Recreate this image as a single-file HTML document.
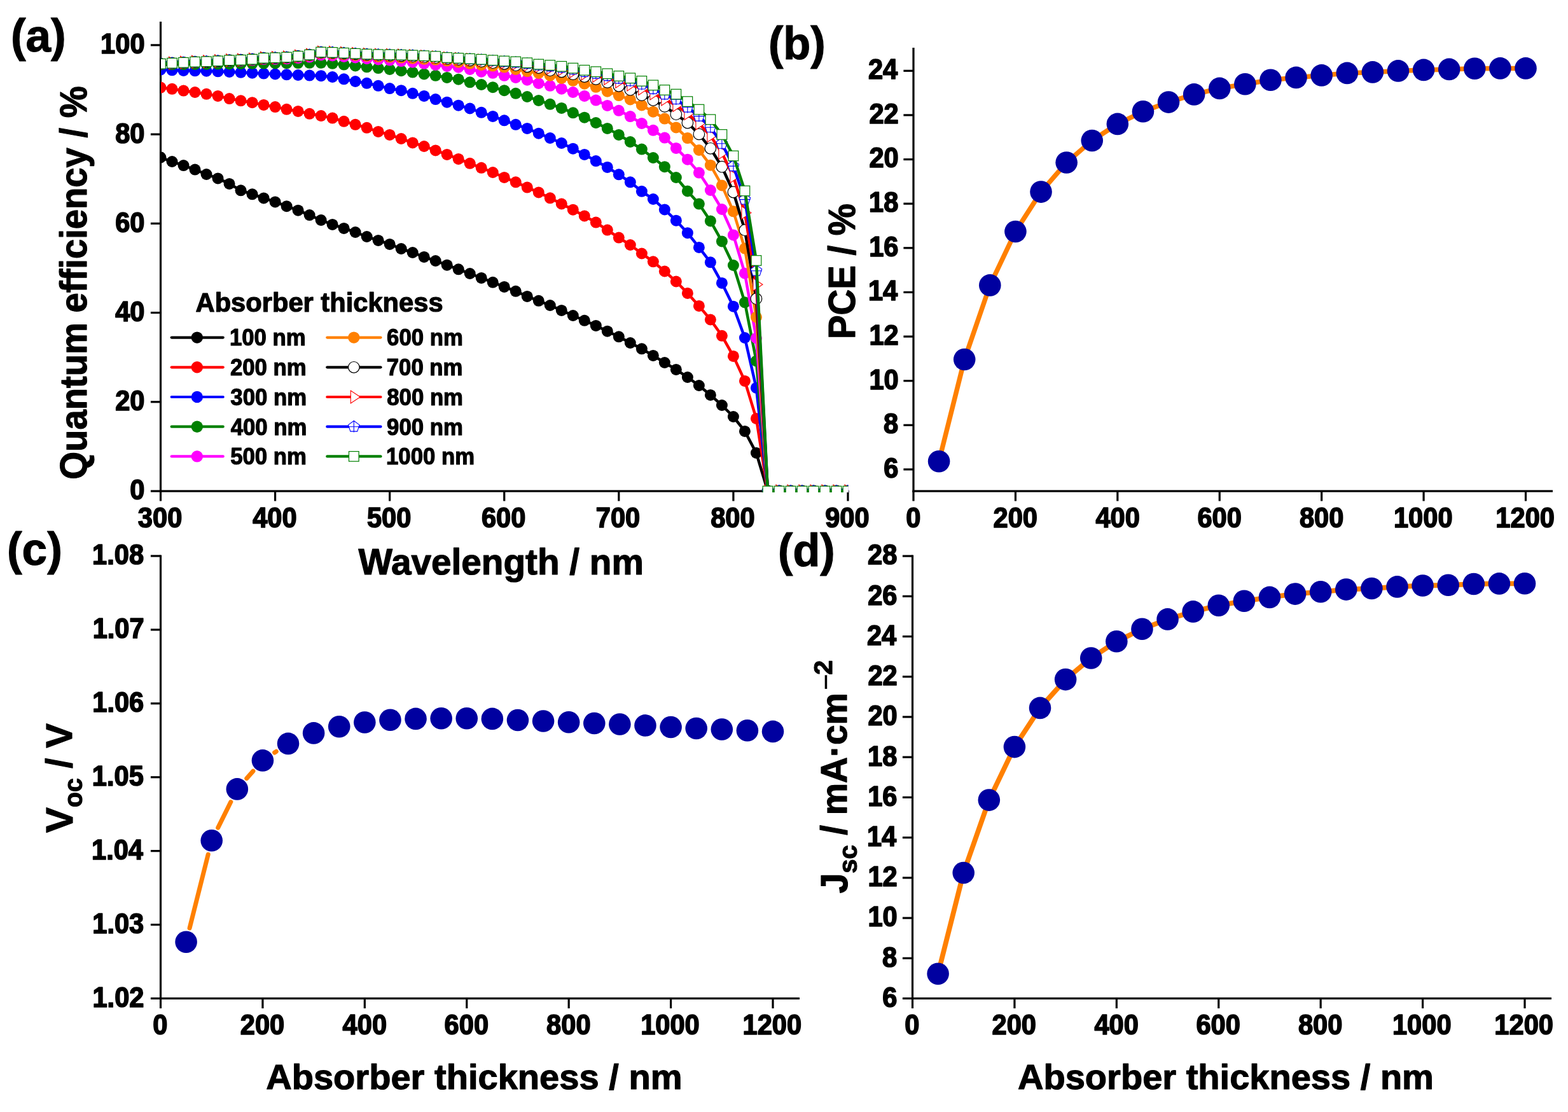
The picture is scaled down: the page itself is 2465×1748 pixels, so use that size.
<!DOCTYPE html>
<html><head><meta charset="utf-8"><title>Figure</title>
<style>html,body{margin:0;padding:0;background:#fff}svg{display:block}</style>
</head><body>
<svg xmlns="http://www.w3.org/2000/svg" width="2465" height="1748" viewBox="0 0 2465 1748">
<rect width="2465" height="1748" fill="#fff"/>
<rect x="250.90" y="34.00" width="3.20" height="739.60" fill="#000"/>
<rect x="250.90" y="770.40" width="1083.60" height="3.20" fill="#000"/>
<rect x="250.90" y="772.00" width="3.20" height="15.60" fill="#000"/>
<rect x="430.98" y="772.00" width="3.20" height="15.60" fill="#000"/>
<rect x="611.06" y="772.00" width="3.20" height="15.60" fill="#000"/>
<rect x="791.14" y="772.00" width="3.20" height="15.60" fill="#000"/>
<rect x="971.22" y="772.00" width="3.20" height="15.60" fill="#000"/>
<rect x="1151.30" y="772.00" width="3.20" height="15.60" fill="#000"/>
<rect x="1331.38" y="772.00" width="3.20" height="15.60" fill="#000"/>
<rect x="236.90" y="770.40" width="15.60" height="3.20" fill="#000"/>
<rect x="236.90" y="630.18" width="15.60" height="3.20" fill="#000"/>
<rect x="236.90" y="489.96" width="15.60" height="3.20" fill="#000"/>
<rect x="236.90" y="349.74" width="15.60" height="3.20" fill="#000"/>
<rect x="236.90" y="209.52" width="15.60" height="3.20" fill="#000"/>
<rect x="236.90" y="69.30" width="15.60" height="3.20" fill="#000"/>
<defs><clipPath id="ca"><rect x="253" y="30" width="1080.5" height="744"/></clipPath>
<clipPath id="cb"><rect x="1437" y="60" width="1010" height="712"/></clipPath></defs>
<g clip-path="url(#ca)">
<polyline points="252.50,247.50 270.51,254.00 288.52,260.10 306.52,266.60 324.53,274.00 342.54,280.40 360.55,288.90 378.56,299.30 396.56,305.30 414.57,311.40 432.58,317.40 450.59,324.20 468.60,330.70 486.60,338.10 504.61,346.00 522.62,352.90 540.63,358.90 558.64,365.00 576.64,372.00 594.65,377.90 612.66,383.90 630.67,391.00 648.68,397.00 666.68,403.90 684.69,410.00 702.70,416.70 720.71,423.30 738.72,430.00 756.72,436.90 774.73,443.80 792.74,450.90 810.75,457.80 828.76,465.90 846.76,472.80 864.77,480.00 882.78,487.90 900.79,496.00 918.80,503.80 936.80,511.90 954.81,520.70 972.82,529.30 990.83,539.00 1008.84,548.30 1026.84,558.90 1044.85,570.00 1062.86,580.90 1080.87,593.00 1098.88,606.00 1116.88,620.90 1134.89,637.00 1152.90,655.00 1170.91,677.90 1188.92,712.00 1206.92,772.00 1224.93,772.00 1242.94,772.00 1260.95,772.00 1278.96,772.00 1296.96,772.00 1314.97,772.00 1332.98,772.00" fill="none" stroke="#000000" stroke-width="4.5" stroke-linejoin="round"/>
<circle cx="252.50" cy="247.50" r="9" fill="#000000"/>
<circle cx="270.51" cy="254.00" r="9" fill="#000000"/>
<circle cx="288.52" cy="260.10" r="9" fill="#000000"/>
<circle cx="306.52" cy="266.60" r="9" fill="#000000"/>
<circle cx="324.53" cy="274.00" r="9" fill="#000000"/>
<circle cx="342.54" cy="280.40" r="9" fill="#000000"/>
<circle cx="360.55" cy="288.90" r="9" fill="#000000"/>
<circle cx="378.56" cy="299.30" r="9" fill="#000000"/>
<circle cx="396.56" cy="305.30" r="9" fill="#000000"/>
<circle cx="414.57" cy="311.40" r="9" fill="#000000"/>
<circle cx="432.58" cy="317.40" r="9" fill="#000000"/>
<circle cx="450.59" cy="324.20" r="9" fill="#000000"/>
<circle cx="468.60" cy="330.70" r="9" fill="#000000"/>
<circle cx="486.60" cy="338.10" r="9" fill="#000000"/>
<circle cx="504.61" cy="346.00" r="9" fill="#000000"/>
<circle cx="522.62" cy="352.90" r="9" fill="#000000"/>
<circle cx="540.63" cy="358.90" r="9" fill="#000000"/>
<circle cx="558.64" cy="365.00" r="9" fill="#000000"/>
<circle cx="576.64" cy="372.00" r="9" fill="#000000"/>
<circle cx="594.65" cy="377.90" r="9" fill="#000000"/>
<circle cx="612.66" cy="383.90" r="9" fill="#000000"/>
<circle cx="630.67" cy="391.00" r="9" fill="#000000"/>
<circle cx="648.68" cy="397.00" r="9" fill="#000000"/>
<circle cx="666.68" cy="403.90" r="9" fill="#000000"/>
<circle cx="684.69" cy="410.00" r="9" fill="#000000"/>
<circle cx="702.70" cy="416.70" r="9" fill="#000000"/>
<circle cx="720.71" cy="423.30" r="9" fill="#000000"/>
<circle cx="738.72" cy="430.00" r="9" fill="#000000"/>
<circle cx="756.72" cy="436.90" r="9" fill="#000000"/>
<circle cx="774.73" cy="443.80" r="9" fill="#000000"/>
<circle cx="792.74" cy="450.90" r="9" fill="#000000"/>
<circle cx="810.75" cy="457.80" r="9" fill="#000000"/>
<circle cx="828.76" cy="465.90" r="9" fill="#000000"/>
<circle cx="846.76" cy="472.80" r="9" fill="#000000"/>
<circle cx="864.77" cy="480.00" r="9" fill="#000000"/>
<circle cx="882.78" cy="487.90" r="9" fill="#000000"/>
<circle cx="900.79" cy="496.00" r="9" fill="#000000"/>
<circle cx="918.80" cy="503.80" r="9" fill="#000000"/>
<circle cx="936.80" cy="511.90" r="9" fill="#000000"/>
<circle cx="954.81" cy="520.70" r="9" fill="#000000"/>
<circle cx="972.82" cy="529.30" r="9" fill="#000000"/>
<circle cx="990.83" cy="539.00" r="9" fill="#000000"/>
<circle cx="1008.84" cy="548.30" r="9" fill="#000000"/>
<circle cx="1026.84" cy="558.90" r="9" fill="#000000"/>
<circle cx="1044.85" cy="570.00" r="9" fill="#000000"/>
<circle cx="1062.86" cy="580.90" r="9" fill="#000000"/>
<circle cx="1080.87" cy="593.00" r="9" fill="#000000"/>
<circle cx="1098.88" cy="606.00" r="9" fill="#000000"/>
<circle cx="1116.88" cy="620.90" r="9" fill="#000000"/>
<circle cx="1134.89" cy="637.00" r="9" fill="#000000"/>
<circle cx="1152.90" cy="655.00" r="9" fill="#000000"/>
<circle cx="1170.91" cy="677.90" r="9" fill="#000000"/>
<circle cx="1188.92" cy="712.00" r="9" fill="#000000"/>
<circle cx="1206.92" cy="772.00" r="9" fill="#000000"/>
<circle cx="1224.93" cy="772.00" r="9" fill="#000000"/>
<circle cx="1242.94" cy="772.00" r="9" fill="#000000"/>
<circle cx="1260.95" cy="772.00" r="9" fill="#000000"/>
<circle cx="1278.96" cy="772.00" r="9" fill="#000000"/>
<circle cx="1296.96" cy="772.00" r="9" fill="#000000"/>
<circle cx="1314.97" cy="772.00" r="9" fill="#000000"/>
<circle cx="1332.98" cy="772.00" r="9" fill="#000000"/>
<polyline points="252.50,137.60 270.51,139.80 288.52,142.60 306.52,145.00 324.53,147.80 342.54,150.90 360.55,155.10 378.56,158.30 396.56,161.20 414.57,164.90 432.58,168.10 450.59,171.80 468.60,174.90 486.60,178.80 504.61,182.00 522.62,185.60 540.63,190.80 558.64,195.80 576.64,200.80 594.65,206.90 612.66,211.90 630.67,218.00 648.68,224.40 666.68,230.00 684.69,236.40 702.70,242.90 720.71,249.90 738.72,256.80 756.72,263.80 774.73,271.00 792.74,278.90 810.75,286.30 828.76,294.60 846.76,302.40 864.77,311.30 882.78,320.50 900.79,329.70 918.80,339.40 936.80,349.60 954.81,361.60 972.82,373.60 990.83,385.00 1008.84,398.50 1026.84,411.30 1044.85,426.50 1062.86,442.50 1080.87,460.90 1098.88,480.90 1116.88,502.50 1134.89,527.80 1152.90,559.90 1170.91,598.90 1188.92,657.90 1206.92,772.00 1224.93,772.00 1242.94,772.00 1260.95,772.00 1278.96,772.00 1296.96,772.00 1314.97,772.00 1332.98,772.00" fill="none" stroke="#ff0000" stroke-width="4.5" stroke-linejoin="round"/>
<circle cx="252.50" cy="137.60" r="9" fill="#ff0000"/>
<circle cx="270.51" cy="139.80" r="9" fill="#ff0000"/>
<circle cx="288.52" cy="142.60" r="9" fill="#ff0000"/>
<circle cx="306.52" cy="145.00" r="9" fill="#ff0000"/>
<circle cx="324.53" cy="147.80" r="9" fill="#ff0000"/>
<circle cx="342.54" cy="150.90" r="9" fill="#ff0000"/>
<circle cx="360.55" cy="155.10" r="9" fill="#ff0000"/>
<circle cx="378.56" cy="158.30" r="9" fill="#ff0000"/>
<circle cx="396.56" cy="161.20" r="9" fill="#ff0000"/>
<circle cx="414.57" cy="164.90" r="9" fill="#ff0000"/>
<circle cx="432.58" cy="168.10" r="9" fill="#ff0000"/>
<circle cx="450.59" cy="171.80" r="9" fill="#ff0000"/>
<circle cx="468.60" cy="174.90" r="9" fill="#ff0000"/>
<circle cx="486.60" cy="178.80" r="9" fill="#ff0000"/>
<circle cx="504.61" cy="182.00" r="9" fill="#ff0000"/>
<circle cx="522.62" cy="185.60" r="9" fill="#ff0000"/>
<circle cx="540.63" cy="190.80" r="9" fill="#ff0000"/>
<circle cx="558.64" cy="195.80" r="9" fill="#ff0000"/>
<circle cx="576.64" cy="200.80" r="9" fill="#ff0000"/>
<circle cx="594.65" cy="206.90" r="9" fill="#ff0000"/>
<circle cx="612.66" cy="211.90" r="9" fill="#ff0000"/>
<circle cx="630.67" cy="218.00" r="9" fill="#ff0000"/>
<circle cx="648.68" cy="224.40" r="9" fill="#ff0000"/>
<circle cx="666.68" cy="230.00" r="9" fill="#ff0000"/>
<circle cx="684.69" cy="236.40" r="9" fill="#ff0000"/>
<circle cx="702.70" cy="242.90" r="9" fill="#ff0000"/>
<circle cx="720.71" cy="249.90" r="9" fill="#ff0000"/>
<circle cx="738.72" cy="256.80" r="9" fill="#ff0000"/>
<circle cx="756.72" cy="263.80" r="9" fill="#ff0000"/>
<circle cx="774.73" cy="271.00" r="9" fill="#ff0000"/>
<circle cx="792.74" cy="278.90" r="9" fill="#ff0000"/>
<circle cx="810.75" cy="286.30" r="9" fill="#ff0000"/>
<circle cx="828.76" cy="294.60" r="9" fill="#ff0000"/>
<circle cx="846.76" cy="302.40" r="9" fill="#ff0000"/>
<circle cx="864.77" cy="311.30" r="9" fill="#ff0000"/>
<circle cx="882.78" cy="320.50" r="9" fill="#ff0000"/>
<circle cx="900.79" cy="329.70" r="9" fill="#ff0000"/>
<circle cx="918.80" cy="339.40" r="9" fill="#ff0000"/>
<circle cx="936.80" cy="349.60" r="9" fill="#ff0000"/>
<circle cx="954.81" cy="361.60" r="9" fill="#ff0000"/>
<circle cx="972.82" cy="373.60" r="9" fill="#ff0000"/>
<circle cx="990.83" cy="385.00" r="9" fill="#ff0000"/>
<circle cx="1008.84" cy="398.50" r="9" fill="#ff0000"/>
<circle cx="1026.84" cy="411.30" r="9" fill="#ff0000"/>
<circle cx="1044.85" cy="426.50" r="9" fill="#ff0000"/>
<circle cx="1062.86" cy="442.50" r="9" fill="#ff0000"/>
<circle cx="1080.87" cy="460.90" r="9" fill="#ff0000"/>
<circle cx="1098.88" cy="480.90" r="9" fill="#ff0000"/>
<circle cx="1116.88" cy="502.50" r="9" fill="#ff0000"/>
<circle cx="1134.89" cy="527.80" r="9" fill="#ff0000"/>
<circle cx="1152.90" cy="559.90" r="9" fill="#ff0000"/>
<circle cx="1170.91" cy="598.90" r="9" fill="#ff0000"/>
<circle cx="1188.92" cy="657.90" r="9" fill="#ff0000"/>
<circle cx="1206.92" cy="772.00" r="9" fill="#ff0000"/>
<circle cx="1224.93" cy="772.00" r="9" fill="#ff0000"/>
<circle cx="1242.94" cy="772.00" r="9" fill="#ff0000"/>
<circle cx="1260.95" cy="772.00" r="9" fill="#ff0000"/>
<circle cx="1278.96" cy="772.00" r="9" fill="#ff0000"/>
<circle cx="1296.96" cy="772.00" r="9" fill="#ff0000"/>
<circle cx="1314.97" cy="772.00" r="9" fill="#ff0000"/>
<circle cx="1332.98" cy="772.00" r="9" fill="#ff0000"/>
<polyline points="252.50,109.50 270.51,110.37 288.52,111.00 306.52,111.36 324.53,111.70 342.54,112.28 360.55,113.00 378.56,113.82 396.56,114.70 414.57,115.61 432.58,116.50 450.59,117.29 468.60,118.00 486.60,118.53 504.61,119.20 522.62,121.00 540.63,124.30 558.64,128.00 576.64,130.80 594.65,134.80 612.66,139.10 630.67,142.20 648.68,146.80 666.68,150.90 684.69,156.10 702.70,160.70 720.71,165.70 738.72,170.50 756.72,176.80 774.73,182.90 792.74,189.30 810.75,195.80 828.76,201.90 846.76,209.70 864.77,217.00 882.78,225.00 900.79,233.70 918.80,242.90 936.80,253.10 954.81,262.90 972.82,274.30 990.83,286.30 1008.84,300.80 1026.84,313.00 1044.85,329.40 1062.86,346.70 1080.87,366.20 1098.88,388.90 1116.88,412.30 1134.89,444.90 1152.90,481.70 1170.91,531.00 1188.92,609.70 1206.92,772.00 1224.93,772.00 1242.94,772.00 1260.95,772.00 1278.96,772.00 1296.96,772.00 1314.97,772.00 1332.98,772.00" fill="none" stroke="#0000ff" stroke-width="4.5" stroke-linejoin="round"/>
<circle cx="252.50" cy="109.50" r="9" fill="#0000ff"/>
<circle cx="270.51" cy="110.37" r="9" fill="#0000ff"/>
<circle cx="288.52" cy="111.00" r="9" fill="#0000ff"/>
<circle cx="306.52" cy="111.36" r="9" fill="#0000ff"/>
<circle cx="324.53" cy="111.70" r="9" fill="#0000ff"/>
<circle cx="342.54" cy="112.28" r="9" fill="#0000ff"/>
<circle cx="360.55" cy="113.00" r="9" fill="#0000ff"/>
<circle cx="378.56" cy="113.82" r="9" fill="#0000ff"/>
<circle cx="396.56" cy="114.70" r="9" fill="#0000ff"/>
<circle cx="414.57" cy="115.61" r="9" fill="#0000ff"/>
<circle cx="432.58" cy="116.50" r="9" fill="#0000ff"/>
<circle cx="450.59" cy="117.29" r="9" fill="#0000ff"/>
<circle cx="468.60" cy="118.00" r="9" fill="#0000ff"/>
<circle cx="486.60" cy="118.53" r="9" fill="#0000ff"/>
<circle cx="504.61" cy="119.20" r="9" fill="#0000ff"/>
<circle cx="522.62" cy="121.00" r="9" fill="#0000ff"/>
<circle cx="540.63" cy="124.30" r="9" fill="#0000ff"/>
<circle cx="558.64" cy="128.00" r="9" fill="#0000ff"/>
<circle cx="576.64" cy="130.80" r="9" fill="#0000ff"/>
<circle cx="594.65" cy="134.80" r="9" fill="#0000ff"/>
<circle cx="612.66" cy="139.10" r="9" fill="#0000ff"/>
<circle cx="630.67" cy="142.20" r="9" fill="#0000ff"/>
<circle cx="648.68" cy="146.80" r="9" fill="#0000ff"/>
<circle cx="666.68" cy="150.90" r="9" fill="#0000ff"/>
<circle cx="684.69" cy="156.10" r="9" fill="#0000ff"/>
<circle cx="702.70" cy="160.70" r="9" fill="#0000ff"/>
<circle cx="720.71" cy="165.70" r="9" fill="#0000ff"/>
<circle cx="738.72" cy="170.50" r="9" fill="#0000ff"/>
<circle cx="756.72" cy="176.80" r="9" fill="#0000ff"/>
<circle cx="774.73" cy="182.90" r="9" fill="#0000ff"/>
<circle cx="792.74" cy="189.30" r="9" fill="#0000ff"/>
<circle cx="810.75" cy="195.80" r="9" fill="#0000ff"/>
<circle cx="828.76" cy="201.90" r="9" fill="#0000ff"/>
<circle cx="846.76" cy="209.70" r="9" fill="#0000ff"/>
<circle cx="864.77" cy="217.00" r="9" fill="#0000ff"/>
<circle cx="882.78" cy="225.00" r="9" fill="#0000ff"/>
<circle cx="900.79" cy="233.70" r="9" fill="#0000ff"/>
<circle cx="918.80" cy="242.90" r="9" fill="#0000ff"/>
<circle cx="936.80" cy="253.10" r="9" fill="#0000ff"/>
<circle cx="954.81" cy="262.90" r="9" fill="#0000ff"/>
<circle cx="972.82" cy="274.30" r="9" fill="#0000ff"/>
<circle cx="990.83" cy="286.30" r="9" fill="#0000ff"/>
<circle cx="1008.84" cy="300.80" r="9" fill="#0000ff"/>
<circle cx="1026.84" cy="313.00" r="9" fill="#0000ff"/>
<circle cx="1044.85" cy="329.40" r="9" fill="#0000ff"/>
<circle cx="1062.86" cy="346.70" r="9" fill="#0000ff"/>
<circle cx="1080.87" cy="366.20" r="9" fill="#0000ff"/>
<circle cx="1098.88" cy="388.90" r="9" fill="#0000ff"/>
<circle cx="1116.88" cy="412.30" r="9" fill="#0000ff"/>
<circle cx="1134.89" cy="444.90" r="9" fill="#0000ff"/>
<circle cx="1152.90" cy="481.70" r="9" fill="#0000ff"/>
<circle cx="1170.91" cy="531.00" r="9" fill="#0000ff"/>
<circle cx="1188.92" cy="609.70" r="9" fill="#0000ff"/>
<circle cx="1206.92" cy="772.00" r="9" fill="#0000ff"/>
<circle cx="1224.93" cy="772.00" r="9" fill="#0000ff"/>
<circle cx="1242.94" cy="772.00" r="9" fill="#0000ff"/>
<circle cx="1260.95" cy="772.00" r="9" fill="#0000ff"/>
<circle cx="1278.96" cy="772.00" r="9" fill="#0000ff"/>
<circle cx="1296.96" cy="772.00" r="9" fill="#0000ff"/>
<circle cx="1314.97" cy="772.00" r="9" fill="#0000ff"/>
<circle cx="1332.98" cy="772.00" r="9" fill="#0000ff"/>
<polyline points="252.50,101.50 270.51,101.34 288.52,101.16 306.52,100.98 324.53,100.79 342.54,100.60 360.55,100.39 378.56,100.16 396.56,99.93 414.57,99.71 432.58,99.50 450.59,99.28 468.60,99.05 486.60,98.87 504.61,98.80 522.62,99.80 540.63,101.60 558.64,103.39 576.64,105.30 594.65,107.10 612.66,109.00 630.67,111.17 648.68,113.60 666.68,116.40 684.69,118.80 702.70,121.90 720.71,124.70 738.72,129.30 756.72,133.00 774.73,137.20 792.74,142.20 810.75,146.80 828.76,152.00 846.76,157.90 864.77,163.80 882.78,169.90 900.79,177.30 918.80,184.70 936.80,193.00 954.81,201.90 972.82,211.90 990.83,223.00 1008.84,234.60 1026.84,248.00 1044.85,262.20 1062.86,279.00 1080.87,300.50 1098.88,320.60 1116.88,347.40 1134.89,379.40 1152.90,417.00 1170.91,475.30 1188.92,567.40 1206.92,772.00 1224.93,772.00 1242.94,772.00 1260.95,772.00 1278.96,772.00 1296.96,772.00 1314.97,772.00 1332.98,772.00" fill="none" stroke="#008000" stroke-width="4.5" stroke-linejoin="round"/>
<circle cx="252.50" cy="101.50" r="9" fill="#008000"/>
<circle cx="270.51" cy="101.34" r="9" fill="#008000"/>
<circle cx="288.52" cy="101.16" r="9" fill="#008000"/>
<circle cx="306.52" cy="100.98" r="9" fill="#008000"/>
<circle cx="324.53" cy="100.79" r="9" fill="#008000"/>
<circle cx="342.54" cy="100.60" r="9" fill="#008000"/>
<circle cx="360.55" cy="100.39" r="9" fill="#008000"/>
<circle cx="378.56" cy="100.16" r="9" fill="#008000"/>
<circle cx="396.56" cy="99.93" r="9" fill="#008000"/>
<circle cx="414.57" cy="99.71" r="9" fill="#008000"/>
<circle cx="432.58" cy="99.50" r="9" fill="#008000"/>
<circle cx="450.59" cy="99.28" r="9" fill="#008000"/>
<circle cx="468.60" cy="99.05" r="9" fill="#008000"/>
<circle cx="486.60" cy="98.87" r="9" fill="#008000"/>
<circle cx="504.61" cy="98.80" r="9" fill="#008000"/>
<circle cx="522.62" cy="99.80" r="9" fill="#008000"/>
<circle cx="540.63" cy="101.60" r="9" fill="#008000"/>
<circle cx="558.64" cy="103.39" r="9" fill="#008000"/>
<circle cx="576.64" cy="105.30" r="9" fill="#008000"/>
<circle cx="594.65" cy="107.10" r="9" fill="#008000"/>
<circle cx="612.66" cy="109.00" r="9" fill="#008000"/>
<circle cx="630.67" cy="111.17" r="9" fill="#008000"/>
<circle cx="648.68" cy="113.60" r="9" fill="#008000"/>
<circle cx="666.68" cy="116.40" r="9" fill="#008000"/>
<circle cx="684.69" cy="118.80" r="9" fill="#008000"/>
<circle cx="702.70" cy="121.90" r="9" fill="#008000"/>
<circle cx="720.71" cy="124.70" r="9" fill="#008000"/>
<circle cx="738.72" cy="129.30" r="9" fill="#008000"/>
<circle cx="756.72" cy="133.00" r="9" fill="#008000"/>
<circle cx="774.73" cy="137.20" r="9" fill="#008000"/>
<circle cx="792.74" cy="142.20" r="9" fill="#008000"/>
<circle cx="810.75" cy="146.80" r="9" fill="#008000"/>
<circle cx="828.76" cy="152.00" r="9" fill="#008000"/>
<circle cx="846.76" cy="157.90" r="9" fill="#008000"/>
<circle cx="864.77" cy="163.80" r="9" fill="#008000"/>
<circle cx="882.78" cy="169.90" r="9" fill="#008000"/>
<circle cx="900.79" cy="177.30" r="9" fill="#008000"/>
<circle cx="918.80" cy="184.70" r="9" fill="#008000"/>
<circle cx="936.80" cy="193.00" r="9" fill="#008000"/>
<circle cx="954.81" cy="201.90" r="9" fill="#008000"/>
<circle cx="972.82" cy="211.90" r="9" fill="#008000"/>
<circle cx="990.83" cy="223.00" r="9" fill="#008000"/>
<circle cx="1008.84" cy="234.60" r="9" fill="#008000"/>
<circle cx="1026.84" cy="248.00" r="9" fill="#008000"/>
<circle cx="1044.85" cy="262.20" r="9" fill="#008000"/>
<circle cx="1062.86" cy="279.00" r="9" fill="#008000"/>
<circle cx="1080.87" cy="300.50" r="9" fill="#008000"/>
<circle cx="1098.88" cy="320.60" r="9" fill="#008000"/>
<circle cx="1116.88" cy="347.40" r="9" fill="#008000"/>
<circle cx="1134.89" cy="379.40" r="9" fill="#008000"/>
<circle cx="1152.90" cy="417.00" r="9" fill="#008000"/>
<circle cx="1170.91" cy="475.30" r="9" fill="#008000"/>
<circle cx="1188.92" cy="567.40" r="9" fill="#008000"/>
<circle cx="1206.92" cy="772.00" r="9" fill="#008000"/>
<circle cx="1224.93" cy="772.00" r="9" fill="#008000"/>
<circle cx="1242.94" cy="772.00" r="9" fill="#008000"/>
<circle cx="1260.95" cy="772.00" r="9" fill="#008000"/>
<circle cx="1278.96" cy="772.00" r="9" fill="#008000"/>
<circle cx="1296.96" cy="772.00" r="9" fill="#008000"/>
<circle cx="1314.97" cy="772.00" r="9" fill="#008000"/>
<circle cx="1332.98" cy="772.00" r="9" fill="#008000"/>
<polyline points="252.50,100.64 270.51,99.63 288.52,98.84 306.52,97.87 324.53,97.44 342.54,96.62 360.55,95.71 378.56,95.51 396.56,94.62 414.57,93.00 432.58,92.76 450.59,92.34 468.60,91.11 486.60,89.56 504.61,86.41 522.62,87.45 540.63,88.90 558.64,90.42 576.64,92.13 594.65,93.48 612.66,94.56 630.67,96.10 648.68,97.70 666.68,99.80 684.69,101.90 702.70,104.00 720.71,105.70 738.72,108.90 756.72,112.70 774.73,114.80 792.74,118.80 810.75,121.90 828.76,125.70 846.76,131.00 864.77,134.80 882.78,139.70 900.79,145.00 918.80,150.90 936.80,157.60 954.81,165.90 972.82,173.80 990.83,183.10 1008.84,194.00 1026.84,204.80 1044.85,216.60 1062.86,232.90 1080.87,250.70 1098.88,271.60 1116.88,299.00 1134.89,329.00 1152.90,369.40 1170.91,429.70 1188.92,531.50 1206.92,772.00 1224.93,772.00 1242.94,772.00 1260.95,772.00 1278.96,772.00 1296.96,772.00 1314.97,772.00 1332.98,772.00" fill="none" stroke="#ff00ff" stroke-width="4.5" stroke-linejoin="round"/>
<circle cx="252.50" cy="100.64" r="9" fill="#ff00ff"/>
<circle cx="270.51" cy="99.63" r="9" fill="#ff00ff"/>
<circle cx="288.52" cy="98.84" r="9" fill="#ff00ff"/>
<circle cx="306.52" cy="97.87" r="9" fill="#ff00ff"/>
<circle cx="324.53" cy="97.44" r="9" fill="#ff00ff"/>
<circle cx="342.54" cy="96.62" r="9" fill="#ff00ff"/>
<circle cx="360.55" cy="95.71" r="9" fill="#ff00ff"/>
<circle cx="378.56" cy="95.51" r="9" fill="#ff00ff"/>
<circle cx="396.56" cy="94.62" r="9" fill="#ff00ff"/>
<circle cx="414.57" cy="93.00" r="9" fill="#ff00ff"/>
<circle cx="432.58" cy="92.76" r="9" fill="#ff00ff"/>
<circle cx="450.59" cy="92.34" r="9" fill="#ff00ff"/>
<circle cx="468.60" cy="91.11" r="9" fill="#ff00ff"/>
<circle cx="486.60" cy="89.56" r="9" fill="#ff00ff"/>
<circle cx="504.61" cy="86.41" r="9" fill="#ff00ff"/>
<circle cx="522.62" cy="87.45" r="9" fill="#ff00ff"/>
<circle cx="540.63" cy="88.90" r="9" fill="#ff00ff"/>
<circle cx="558.64" cy="90.42" r="9" fill="#ff00ff"/>
<circle cx="576.64" cy="92.13" r="9" fill="#ff00ff"/>
<circle cx="594.65" cy="93.48" r="9" fill="#ff00ff"/>
<circle cx="612.66" cy="94.56" r="9" fill="#ff00ff"/>
<circle cx="630.67" cy="96.10" r="9" fill="#ff00ff"/>
<circle cx="648.68" cy="97.70" r="9" fill="#ff00ff"/>
<circle cx="666.68" cy="99.80" r="9" fill="#ff00ff"/>
<circle cx="684.69" cy="101.90" r="9" fill="#ff00ff"/>
<circle cx="702.70" cy="104.00" r="9" fill="#ff00ff"/>
<circle cx="720.71" cy="105.70" r="9" fill="#ff00ff"/>
<circle cx="738.72" cy="108.90" r="9" fill="#ff00ff"/>
<circle cx="756.72" cy="112.70" r="9" fill="#ff00ff"/>
<circle cx="774.73" cy="114.80" r="9" fill="#ff00ff"/>
<circle cx="792.74" cy="118.80" r="9" fill="#ff00ff"/>
<circle cx="810.75" cy="121.90" r="9" fill="#ff00ff"/>
<circle cx="828.76" cy="125.70" r="9" fill="#ff00ff"/>
<circle cx="846.76" cy="131.00" r="9" fill="#ff00ff"/>
<circle cx="864.77" cy="134.80" r="9" fill="#ff00ff"/>
<circle cx="882.78" cy="139.70" r="9" fill="#ff00ff"/>
<circle cx="900.79" cy="145.00" r="9" fill="#ff00ff"/>
<circle cx="918.80" cy="150.90" r="9" fill="#ff00ff"/>
<circle cx="936.80" cy="157.60" r="9" fill="#ff00ff"/>
<circle cx="954.81" cy="165.90" r="9" fill="#ff00ff"/>
<circle cx="972.82" cy="173.80" r="9" fill="#ff00ff"/>
<circle cx="990.83" cy="183.10" r="9" fill="#ff00ff"/>
<circle cx="1008.84" cy="194.00" r="9" fill="#ff00ff"/>
<circle cx="1026.84" cy="204.80" r="9" fill="#ff00ff"/>
<circle cx="1044.85" cy="216.60" r="9" fill="#ff00ff"/>
<circle cx="1062.86" cy="232.90" r="9" fill="#ff00ff"/>
<circle cx="1080.87" cy="250.70" r="9" fill="#ff00ff"/>
<circle cx="1098.88" cy="271.60" r="9" fill="#ff00ff"/>
<circle cx="1116.88" cy="299.00" r="9" fill="#ff00ff"/>
<circle cx="1134.89" cy="329.00" r="9" fill="#ff00ff"/>
<circle cx="1152.90" cy="369.40" r="9" fill="#ff00ff"/>
<circle cx="1170.91" cy="429.70" r="9" fill="#ff00ff"/>
<circle cx="1188.92" cy="531.50" r="9" fill="#ff00ff"/>
<circle cx="1206.92" cy="772.00" r="9" fill="#ff00ff"/>
<circle cx="1224.93" cy="772.00" r="9" fill="#ff00ff"/>
<circle cx="1242.94" cy="772.00" r="9" fill="#ff00ff"/>
<circle cx="1260.95" cy="772.00" r="9" fill="#ff00ff"/>
<circle cx="1278.96" cy="772.00" r="9" fill="#ff00ff"/>
<circle cx="1296.96" cy="772.00" r="9" fill="#ff00ff"/>
<circle cx="1314.97" cy="772.00" r="9" fill="#ff00ff"/>
<circle cx="1332.98" cy="772.00" r="9" fill="#ff00ff"/>
<polyline points="252.50,100.37 270.51,99.30 288.52,98.43 306.52,97.42 324.53,96.93 342.54,96.05 360.55,95.00 378.56,94.60 396.56,93.57 414.57,91.77 432.58,91.37 450.59,90.72 468.60,89.21 486.60,87.28 504.61,83.60 522.62,84.30 540.63,85.46 558.64,86.65 576.64,87.95 594.65,88.93 612.66,89.58 630.67,90.57 648.68,91.70 666.68,92.80 684.69,93.80 702.70,95.60 720.71,97.70 738.72,99.80 756.72,101.90 774.73,103.60 792.74,105.60 810.75,109.00 828.76,112.10 846.76,114.90 864.77,118.70 882.78,122.90 900.79,126.80 918.80,131.70 936.80,136.80 954.81,143.70 972.82,150.10 990.83,156.50 1008.84,165.40 1026.84,175.70 1044.85,186.60 1062.86,200.40 1080.87,217.10 1098.88,236.00 1116.88,259.70 1134.89,291.50 1152.90,332.30 1170.91,390.60 1188.92,498.50 1206.92,772.00 1224.93,772.00 1242.94,772.00 1260.95,772.00 1278.96,772.00 1296.96,772.00 1314.97,772.00 1332.98,772.00" fill="none" stroke="#ff8000" stroke-width="4.5" stroke-linejoin="round"/>
<circle cx="252.50" cy="100.37" r="9" fill="#ff8000"/>
<circle cx="270.51" cy="99.30" r="9" fill="#ff8000"/>
<circle cx="288.52" cy="98.43" r="9" fill="#ff8000"/>
<circle cx="306.52" cy="97.42" r="9" fill="#ff8000"/>
<circle cx="324.53" cy="96.93" r="9" fill="#ff8000"/>
<circle cx="342.54" cy="96.05" r="9" fill="#ff8000"/>
<circle cx="360.55" cy="95.00" r="9" fill="#ff8000"/>
<circle cx="378.56" cy="94.60" r="9" fill="#ff8000"/>
<circle cx="396.56" cy="93.57" r="9" fill="#ff8000"/>
<circle cx="414.57" cy="91.77" r="9" fill="#ff8000"/>
<circle cx="432.58" cy="91.37" r="9" fill="#ff8000"/>
<circle cx="450.59" cy="90.72" r="9" fill="#ff8000"/>
<circle cx="468.60" cy="89.21" r="9" fill="#ff8000"/>
<circle cx="486.60" cy="87.28" r="9" fill="#ff8000"/>
<circle cx="504.61" cy="83.60" r="9" fill="#ff8000"/>
<circle cx="522.62" cy="84.30" r="9" fill="#ff8000"/>
<circle cx="540.63" cy="85.46" r="9" fill="#ff8000"/>
<circle cx="558.64" cy="86.65" r="9" fill="#ff8000"/>
<circle cx="576.64" cy="87.95" r="9" fill="#ff8000"/>
<circle cx="594.65" cy="88.93" r="9" fill="#ff8000"/>
<circle cx="612.66" cy="89.58" r="9" fill="#ff8000"/>
<circle cx="630.67" cy="90.57" r="9" fill="#ff8000"/>
<circle cx="648.68" cy="91.70" r="9" fill="#ff8000"/>
<circle cx="666.68" cy="92.80" r="9" fill="#ff8000"/>
<circle cx="684.69" cy="93.80" r="9" fill="#ff8000"/>
<circle cx="702.70" cy="95.60" r="9" fill="#ff8000"/>
<circle cx="720.71" cy="97.70" r="9" fill="#ff8000"/>
<circle cx="738.72" cy="99.80" r="9" fill="#ff8000"/>
<circle cx="756.72" cy="101.90" r="9" fill="#ff8000"/>
<circle cx="774.73" cy="103.60" r="9" fill="#ff8000"/>
<circle cx="792.74" cy="105.60" r="9" fill="#ff8000"/>
<circle cx="810.75" cy="109.00" r="9" fill="#ff8000"/>
<circle cx="828.76" cy="112.10" r="9" fill="#ff8000"/>
<circle cx="846.76" cy="114.90" r="9" fill="#ff8000"/>
<circle cx="864.77" cy="118.70" r="9" fill="#ff8000"/>
<circle cx="882.78" cy="122.90" r="9" fill="#ff8000"/>
<circle cx="900.79" cy="126.80" r="9" fill="#ff8000"/>
<circle cx="918.80" cy="131.70" r="9" fill="#ff8000"/>
<circle cx="936.80" cy="136.80" r="9" fill="#ff8000"/>
<circle cx="954.81" cy="143.70" r="9" fill="#ff8000"/>
<circle cx="972.82" cy="150.10" r="9" fill="#ff8000"/>
<circle cx="990.83" cy="156.50" r="9" fill="#ff8000"/>
<circle cx="1008.84" cy="165.40" r="9" fill="#ff8000"/>
<circle cx="1026.84" cy="175.70" r="9" fill="#ff8000"/>
<circle cx="1044.85" cy="186.60" r="9" fill="#ff8000"/>
<circle cx="1062.86" cy="200.40" r="9" fill="#ff8000"/>
<circle cx="1080.87" cy="217.10" r="9" fill="#ff8000"/>
<circle cx="1098.88" cy="236.00" r="9" fill="#ff8000"/>
<circle cx="1116.88" cy="259.70" r="9" fill="#ff8000"/>
<circle cx="1134.89" cy="291.50" r="9" fill="#ff8000"/>
<circle cx="1152.90" cy="332.30" r="9" fill="#ff8000"/>
<circle cx="1170.91" cy="390.60" r="9" fill="#ff8000"/>
<circle cx="1188.92" cy="498.50" r="9" fill="#ff8000"/>
<circle cx="1206.92" cy="772.00" r="9" fill="#ff8000"/>
<circle cx="1224.93" cy="772.00" r="9" fill="#ff8000"/>
<circle cx="1242.94" cy="772.00" r="9" fill="#ff8000"/>
<circle cx="1260.95" cy="772.00" r="9" fill="#ff8000"/>
<circle cx="1278.96" cy="772.00" r="9" fill="#ff8000"/>
<circle cx="1296.96" cy="772.00" r="9" fill="#ff8000"/>
<circle cx="1314.97" cy="772.00" r="9" fill="#ff8000"/>
<circle cx="1332.98" cy="772.00" r="9" fill="#ff8000"/>
<polyline points="252.50,100.32 270.51,99.22 288.52,98.33 306.52,97.31 324.53,96.78 342.54,95.87 360.55,94.76 378.56,94.27 396.56,93.17 414.57,91.29 432.58,90.80 450.59,90.04 468.60,88.40 486.60,86.29 504.61,82.35 522.62,82.85 540.63,83.85 558.64,84.87 576.64,85.93 594.65,86.69 612.66,87.09 630.67,87.75 648.68,88.60 666.68,89.70 684.69,90.70 702.70,92.40 720.71,93.50 738.72,94.90 756.72,96.60 774.73,98.70 792.74,100.30 810.75,102.70 828.76,104.80 846.76,106.50 864.77,110.70 882.78,112.80 900.79,116.60 918.80,120.50 936.80,124.40 954.81,129.40 972.82,135.30 990.83,141.20 1008.84,149.60 1026.84,157.50 1044.85,167.40 1062.86,179.70 1080.87,193.00 1098.88,210.90 1116.88,233.30 1134.89,262.20 1152.90,302.00 1170.91,361.70 1188.92,469.70 1206.92,772.00 1224.93,772.00 1242.94,772.00 1260.95,772.00 1278.96,772.00 1296.96,772.00 1314.97,772.00 1332.98,772.00" fill="none" stroke="#000000" stroke-width="4.5" stroke-linejoin="round"/>
<circle cx="252.50" cy="100.32" r="8.8" fill="#fff" stroke="#000000" stroke-width="1.2"/>
<circle cx="270.51" cy="99.22" r="8.8" fill="#fff" stroke="#000000" stroke-width="1.2"/>
<circle cx="288.52" cy="98.33" r="8.8" fill="#fff" stroke="#000000" stroke-width="1.2"/>
<circle cx="306.52" cy="97.31" r="8.8" fill="#fff" stroke="#000000" stroke-width="1.2"/>
<circle cx="324.53" cy="96.78" r="8.8" fill="#fff" stroke="#000000" stroke-width="1.2"/>
<circle cx="342.54" cy="95.87" r="8.8" fill="#fff" stroke="#000000" stroke-width="1.2"/>
<circle cx="360.55" cy="94.76" r="8.8" fill="#fff" stroke="#000000" stroke-width="1.2"/>
<circle cx="378.56" cy="94.27" r="8.8" fill="#fff" stroke="#000000" stroke-width="1.2"/>
<circle cx="396.56" cy="93.17" r="8.8" fill="#fff" stroke="#000000" stroke-width="1.2"/>
<circle cx="414.57" cy="91.29" r="8.8" fill="#fff" stroke="#000000" stroke-width="1.2"/>
<circle cx="432.58" cy="90.80" r="8.8" fill="#fff" stroke="#000000" stroke-width="1.2"/>
<circle cx="450.59" cy="90.04" r="8.8" fill="#fff" stroke="#000000" stroke-width="1.2"/>
<circle cx="468.60" cy="88.40" r="8.8" fill="#fff" stroke="#000000" stroke-width="1.2"/>
<circle cx="486.60" cy="86.29" r="8.8" fill="#fff" stroke="#000000" stroke-width="1.2"/>
<circle cx="504.61" cy="82.35" r="8.8" fill="#fff" stroke="#000000" stroke-width="1.2"/>
<circle cx="522.62" cy="82.85" r="8.8" fill="#fff" stroke="#000000" stroke-width="1.2"/>
<circle cx="540.63" cy="83.85" r="8.8" fill="#fff" stroke="#000000" stroke-width="1.2"/>
<circle cx="558.64" cy="84.87" r="8.8" fill="#fff" stroke="#000000" stroke-width="1.2"/>
<circle cx="576.64" cy="85.93" r="8.8" fill="#fff" stroke="#000000" stroke-width="1.2"/>
<circle cx="594.65" cy="86.69" r="8.8" fill="#fff" stroke="#000000" stroke-width="1.2"/>
<circle cx="612.66" cy="87.09" r="8.8" fill="#fff" stroke="#000000" stroke-width="1.2"/>
<circle cx="630.67" cy="87.75" r="8.8" fill="#fff" stroke="#000000" stroke-width="1.2"/>
<circle cx="648.68" cy="88.60" r="8.8" fill="#fff" stroke="#000000" stroke-width="1.2"/>
<circle cx="666.68" cy="89.70" r="8.8" fill="#fff" stroke="#000000" stroke-width="1.2"/>
<circle cx="684.69" cy="90.70" r="8.8" fill="#fff" stroke="#000000" stroke-width="1.2"/>
<circle cx="702.70" cy="92.40" r="8.8" fill="#fff" stroke="#000000" stroke-width="1.2"/>
<circle cx="720.71" cy="93.50" r="8.8" fill="#fff" stroke="#000000" stroke-width="1.2"/>
<circle cx="738.72" cy="94.90" r="8.8" fill="#fff" stroke="#000000" stroke-width="1.2"/>
<circle cx="756.72" cy="96.60" r="8.8" fill="#fff" stroke="#000000" stroke-width="1.2"/>
<circle cx="774.73" cy="98.70" r="8.8" fill="#fff" stroke="#000000" stroke-width="1.2"/>
<circle cx="792.74" cy="100.30" r="8.8" fill="#fff" stroke="#000000" stroke-width="1.2"/>
<circle cx="810.75" cy="102.70" r="8.8" fill="#fff" stroke="#000000" stroke-width="1.2"/>
<circle cx="828.76" cy="104.80" r="8.8" fill="#fff" stroke="#000000" stroke-width="1.2"/>
<circle cx="846.76" cy="106.50" r="8.8" fill="#fff" stroke="#000000" stroke-width="1.2"/>
<circle cx="864.77" cy="110.70" r="8.8" fill="#fff" stroke="#000000" stroke-width="1.2"/>
<circle cx="882.78" cy="112.80" r="8.8" fill="#fff" stroke="#000000" stroke-width="1.2"/>
<circle cx="900.79" cy="116.60" r="8.8" fill="#fff" stroke="#000000" stroke-width="1.2"/>
<circle cx="918.80" cy="120.50" r="8.8" fill="#fff" stroke="#000000" stroke-width="1.2"/>
<circle cx="936.80" cy="124.40" r="8.8" fill="#fff" stroke="#000000" stroke-width="1.2"/>
<circle cx="954.81" cy="129.40" r="8.8" fill="#fff" stroke="#000000" stroke-width="1.2"/>
<circle cx="972.82" cy="135.30" r="8.8" fill="#fff" stroke="#000000" stroke-width="1.2"/>
<circle cx="990.83" cy="141.20" r="8.8" fill="#fff" stroke="#000000" stroke-width="1.2"/>
<circle cx="1008.84" cy="149.60" r="8.8" fill="#fff" stroke="#000000" stroke-width="1.2"/>
<circle cx="1026.84" cy="157.50" r="8.8" fill="#fff" stroke="#000000" stroke-width="1.2"/>
<circle cx="1044.85" cy="167.40" r="8.8" fill="#fff" stroke="#000000" stroke-width="1.2"/>
<circle cx="1062.86" cy="179.70" r="8.8" fill="#fff" stroke="#000000" stroke-width="1.2"/>
<circle cx="1080.87" cy="193.00" r="8.8" fill="#fff" stroke="#000000" stroke-width="1.2"/>
<circle cx="1098.88" cy="210.90" r="8.8" fill="#fff" stroke="#000000" stroke-width="1.2"/>
<circle cx="1116.88" cy="233.30" r="8.8" fill="#fff" stroke="#000000" stroke-width="1.2"/>
<circle cx="1134.89" cy="262.20" r="8.8" fill="#fff" stroke="#000000" stroke-width="1.2"/>
<circle cx="1152.90" cy="302.00" r="8.8" fill="#fff" stroke="#000000" stroke-width="1.2"/>
<circle cx="1170.91" cy="361.70" r="8.8" fill="#fff" stroke="#000000" stroke-width="1.2"/>
<circle cx="1188.92" cy="469.70" r="8.8" fill="#fff" stroke="#000000" stroke-width="1.2"/>
<circle cx="1206.92" cy="772.00" r="8.8" fill="#fff" stroke="#000000" stroke-width="1.2"/>
<circle cx="1224.93" cy="772.00" r="8.8" fill="#fff" stroke="#000000" stroke-width="1.2"/>
<circle cx="1242.94" cy="772.00" r="8.8" fill="#fff" stroke="#000000" stroke-width="1.2"/>
<circle cx="1260.95" cy="772.00" r="8.8" fill="#fff" stroke="#000000" stroke-width="1.2"/>
<circle cx="1278.96" cy="772.00" r="8.8" fill="#fff" stroke="#000000" stroke-width="1.2"/>
<circle cx="1296.96" cy="772.00" r="8.8" fill="#fff" stroke="#000000" stroke-width="1.2"/>
<circle cx="1314.97" cy="772.00" r="8.8" fill="#fff" stroke="#000000" stroke-width="1.2"/>
<circle cx="1332.98" cy="772.00" r="8.8" fill="#fff" stroke="#000000" stroke-width="1.2"/>
<polyline points="252.50,100.31 270.51,99.21 288.52,98.31 306.52,97.30 324.53,96.79 342.54,95.89 360.55,94.78 378.56,94.29 396.56,93.19 414.57,91.30 432.58,90.80 450.59,90.03 468.60,88.36 486.60,86.21 504.61,82.18 522.62,82.64 540.63,83.59 558.64,84.54 576.64,85.53 594.65,86.21 612.66,86.50 630.67,87.04 648.68,87.76 666.68,88.71 684.69,89.69 702.70,91.54 720.71,92.57 738.72,93.72 756.72,95.06 774.73,96.81 792.74,98.31 810.75,99.96 828.76,102.00 846.76,104.10 864.77,106.81 882.78,108.89 900.79,112.27 918.80,115.93 936.80,119.16 954.81,123.29 972.82,128.16 990.83,132.88 1008.84,139.39 1026.84,146.93 1044.85,156.00 1062.86,165.53 1080.87,178.43 1098.88,193.95 1116.88,213.49 1134.89,240.33 1152.90,277.50 1170.91,334.40 1188.92,447.30 1206.92,772.00 1224.93,772.00 1242.94,772.00 1260.95,772.00 1278.96,772.00 1296.96,772.00 1314.97,772.00 1332.98,772.00" fill="none" stroke="#ff0000" stroke-width="4.5" stroke-linejoin="round"/>
<polygon points="247.50,90.31 247.50,110.31 262.50,100.31" fill="#fff" stroke="#ff0000" stroke-width="1.1"/>
<polygon points="265.51,89.21 265.51,109.21 280.51,99.21" fill="#fff" stroke="#ff0000" stroke-width="1.1"/>
<polygon points="283.52,88.31 283.52,108.31 298.52,98.31" fill="#fff" stroke="#ff0000" stroke-width="1.1"/>
<polygon points="301.52,87.30 301.52,107.30 316.52,97.30" fill="#fff" stroke="#ff0000" stroke-width="1.1"/>
<polygon points="319.53,86.79 319.53,106.79 334.53,96.79" fill="#fff" stroke="#ff0000" stroke-width="1.1"/>
<polygon points="337.54,85.89 337.54,105.89 352.54,95.89" fill="#fff" stroke="#ff0000" stroke-width="1.1"/>
<polygon points="355.55,84.78 355.55,104.78 370.55,94.78" fill="#fff" stroke="#ff0000" stroke-width="1.1"/>
<polygon points="373.56,84.29 373.56,104.29 388.56,94.29" fill="#fff" stroke="#ff0000" stroke-width="1.1"/>
<polygon points="391.56,83.19 391.56,103.19 406.56,93.19" fill="#fff" stroke="#ff0000" stroke-width="1.1"/>
<polygon points="409.57,81.30 409.57,101.30 424.57,91.30" fill="#fff" stroke="#ff0000" stroke-width="1.1"/>
<polygon points="427.58,80.80 427.58,100.80 442.58,90.80" fill="#fff" stroke="#ff0000" stroke-width="1.1"/>
<polygon points="445.59,80.03 445.59,100.03 460.59,90.03" fill="#fff" stroke="#ff0000" stroke-width="1.1"/>
<polygon points="463.60,78.36 463.60,98.36 478.60,88.36" fill="#fff" stroke="#ff0000" stroke-width="1.1"/>
<polygon points="481.60,76.21 481.60,96.21 496.60,86.21" fill="#fff" stroke="#ff0000" stroke-width="1.1"/>
<polygon points="499.61,72.18 499.61,92.18 514.61,82.18" fill="#fff" stroke="#ff0000" stroke-width="1.1"/>
<polygon points="517.62,72.64 517.62,92.64 532.62,82.64" fill="#fff" stroke="#ff0000" stroke-width="1.1"/>
<polygon points="535.63,73.59 535.63,93.59 550.63,83.59" fill="#fff" stroke="#ff0000" stroke-width="1.1"/>
<polygon points="553.64,74.54 553.64,94.54 568.64,84.54" fill="#fff" stroke="#ff0000" stroke-width="1.1"/>
<polygon points="571.64,75.53 571.64,95.53 586.64,85.53" fill="#fff" stroke="#ff0000" stroke-width="1.1"/>
<polygon points="589.65,76.21 589.65,96.21 604.65,86.21" fill="#fff" stroke="#ff0000" stroke-width="1.1"/>
<polygon points="607.66,76.50 607.66,96.50 622.66,86.50" fill="#fff" stroke="#ff0000" stroke-width="1.1"/>
<polygon points="625.67,77.04 625.67,97.04 640.67,87.04" fill="#fff" stroke="#ff0000" stroke-width="1.1"/>
<polygon points="643.68,77.76 643.68,97.76 658.68,87.76" fill="#fff" stroke="#ff0000" stroke-width="1.1"/>
<polygon points="661.68,78.71 661.68,98.71 676.68,88.71" fill="#fff" stroke="#ff0000" stroke-width="1.1"/>
<polygon points="679.69,79.69 679.69,99.69 694.69,89.69" fill="#fff" stroke="#ff0000" stroke-width="1.1"/>
<polygon points="697.70,81.54 697.70,101.54 712.70,91.54" fill="#fff" stroke="#ff0000" stroke-width="1.1"/>
<polygon points="715.71,82.57 715.71,102.57 730.71,92.57" fill="#fff" stroke="#ff0000" stroke-width="1.1"/>
<polygon points="733.72,83.72 733.72,103.72 748.72,93.72" fill="#fff" stroke="#ff0000" stroke-width="1.1"/>
<polygon points="751.72,85.06 751.72,105.06 766.72,95.06" fill="#fff" stroke="#ff0000" stroke-width="1.1"/>
<polygon points="769.73,86.81 769.73,106.81 784.73,96.81" fill="#fff" stroke="#ff0000" stroke-width="1.1"/>
<polygon points="787.74,88.31 787.74,108.31 802.74,98.31" fill="#fff" stroke="#ff0000" stroke-width="1.1"/>
<polygon points="805.75,89.96 805.75,109.96 820.75,99.96" fill="#fff" stroke="#ff0000" stroke-width="1.1"/>
<polygon points="823.76,92.00 823.76,112.00 838.76,102.00" fill="#fff" stroke="#ff0000" stroke-width="1.1"/>
<polygon points="841.76,94.10 841.76,114.10 856.76,104.10" fill="#fff" stroke="#ff0000" stroke-width="1.1"/>
<polygon points="859.77,96.81 859.77,116.81 874.77,106.81" fill="#fff" stroke="#ff0000" stroke-width="1.1"/>
<polygon points="877.78,98.89 877.78,118.89 892.78,108.89" fill="#fff" stroke="#ff0000" stroke-width="1.1"/>
<polygon points="895.79,102.27 895.79,122.27 910.79,112.27" fill="#fff" stroke="#ff0000" stroke-width="1.1"/>
<polygon points="913.80,105.93 913.80,125.93 928.80,115.93" fill="#fff" stroke="#ff0000" stroke-width="1.1"/>
<polygon points="931.80,109.16 931.80,129.16 946.80,119.16" fill="#fff" stroke="#ff0000" stroke-width="1.1"/>
<polygon points="949.81,113.29 949.81,133.29 964.81,123.29" fill="#fff" stroke="#ff0000" stroke-width="1.1"/>
<polygon points="967.82,118.16 967.82,138.16 982.82,128.16" fill="#fff" stroke="#ff0000" stroke-width="1.1"/>
<polygon points="985.83,122.88 985.83,142.88 1000.83,132.88" fill="#fff" stroke="#ff0000" stroke-width="1.1"/>
<polygon points="1003.84,129.39 1003.84,149.39 1018.84,139.39" fill="#fff" stroke="#ff0000" stroke-width="1.1"/>
<polygon points="1021.84,136.93 1021.84,156.93 1036.84,146.93" fill="#fff" stroke="#ff0000" stroke-width="1.1"/>
<polygon points="1039.85,146.00 1039.85,166.00 1054.85,156.00" fill="#fff" stroke="#ff0000" stroke-width="1.1"/>
<polygon points="1057.86,155.53 1057.86,175.53 1072.86,165.53" fill="#fff" stroke="#ff0000" stroke-width="1.1"/>
<polygon points="1075.87,168.43 1075.87,188.43 1090.87,178.43" fill="#fff" stroke="#ff0000" stroke-width="1.1"/>
<polygon points="1093.88,183.95 1093.88,203.95 1108.88,193.95" fill="#fff" stroke="#ff0000" stroke-width="1.1"/>
<polygon points="1111.88,203.49 1111.88,223.49 1126.88,213.49" fill="#fff" stroke="#ff0000" stroke-width="1.1"/>
<polygon points="1129.89,230.33 1129.89,250.33 1144.89,240.33" fill="#fff" stroke="#ff0000" stroke-width="1.1"/>
<polygon points="1147.90,267.50 1147.90,287.50 1162.90,277.50" fill="#fff" stroke="#ff0000" stroke-width="1.1"/>
<polygon points="1165.91,324.40 1165.91,344.40 1180.91,334.40" fill="#fff" stroke="#ff0000" stroke-width="1.1"/>
<polygon points="1183.92,437.30 1183.92,457.30 1198.92,447.30" fill="#fff" stroke="#ff0000" stroke-width="1.1"/>
<polygon points="1201.92,762.00 1201.92,782.00 1216.92,772.00" fill="#fff" stroke="#ff0000" stroke-width="1.1"/>
<polygon points="1219.93,762.00 1219.93,782.00 1234.93,772.00" fill="#fff" stroke="#ff0000" stroke-width="1.1"/>
<polygon points="1237.94,762.00 1237.94,782.00 1252.94,772.00" fill="#fff" stroke="#ff0000" stroke-width="1.1"/>
<polygon points="1255.95,762.00 1255.95,782.00 1270.95,772.00" fill="#fff" stroke="#ff0000" stroke-width="1.1"/>
<polygon points="1273.96,762.00 1273.96,782.00 1288.96,772.00" fill="#fff" stroke="#ff0000" stroke-width="1.1"/>
<polygon points="1291.96,762.00 1291.96,782.00 1306.96,772.00" fill="#fff" stroke="#ff0000" stroke-width="1.1"/>
<polygon points="1309.97,762.00 1309.97,782.00 1324.97,772.00" fill="#fff" stroke="#ff0000" stroke-width="1.1"/>
<polygon points="1327.98,762.00 1327.98,782.00 1342.98,772.00" fill="#fff" stroke="#ff0000" stroke-width="1.1"/>
<polyline points="252.50,100.30 270.51,99.20 288.52,98.30 306.52,97.30 324.53,96.80 342.54,95.90 360.55,94.80 378.56,94.30 396.56,93.20 414.57,91.30 432.58,90.80 450.59,90.03 468.60,88.34 486.60,86.15 504.61,82.07 522.62,82.49 540.63,83.41 558.64,84.33 576.64,85.26 594.65,85.88 612.66,86.11 630.67,86.56 648.68,87.20 666.68,88.06 684.69,89.01 702.70,90.97 720.71,91.95 738.72,92.94 756.72,94.04 774.73,95.55 792.74,96.99 810.75,98.14 828.76,100.13 846.76,102.50 864.77,104.22 882.78,106.29 900.79,109.38 918.80,112.88 936.80,115.66 954.81,119.22 972.82,123.39 990.83,127.34 1008.84,132.59 1026.84,139.88 1044.85,148.40 1062.86,156.08 1080.87,168.72 1098.88,182.65 1116.88,200.29 1134.89,225.75 1152.90,261.17 1170.91,313.60 1188.92,425.70 1206.92,772.00 1224.93,772.00 1242.94,772.00 1260.95,772.00 1278.96,772.00 1296.96,772.00 1314.97,772.00 1332.98,772.00" fill="none" stroke="#0000ff" stroke-width="4.5" stroke-linejoin="round"/>
<polygon points="252.50,91.10 261.25,97.46 257.91,107.74 247.09,107.74 243.75,97.46" fill="#fff" stroke="#0000ff" stroke-width="1.1"/>
<path d="M243.75,100.30H261.25M252.50,91.10V109.22" stroke="#0000ff" stroke-width="1.1"/>
<polygon points="270.51,90.00 279.26,96.36 275.92,106.64 265.10,106.64 261.76,96.36" fill="#fff" stroke="#0000ff" stroke-width="1.1"/>
<path d="M261.76,99.20H279.26M270.51,90.00V108.12" stroke="#0000ff" stroke-width="1.1"/>
<polygon points="288.52,89.10 297.27,95.46 293.92,105.74 283.11,105.74 279.77,95.46" fill="#fff" stroke="#0000ff" stroke-width="1.1"/>
<path d="M279.77,98.30H297.27M288.52,89.10V107.23" stroke="#0000ff" stroke-width="1.1"/>
<polygon points="306.52,88.10 315.27,94.46 311.93,104.74 301.12,104.74 297.77,94.46" fill="#fff" stroke="#0000ff" stroke-width="1.1"/>
<path d="M297.77,97.30H315.27M306.52,88.10V106.23" stroke="#0000ff" stroke-width="1.1"/>
<polygon points="324.53,87.60 333.28,93.96 329.94,104.24 319.12,104.24 315.78,93.96" fill="#fff" stroke="#0000ff" stroke-width="1.1"/>
<path d="M315.78,96.80H333.28M324.53,87.60V105.72" stroke="#0000ff" stroke-width="1.1"/>
<polygon points="342.54,86.70 351.29,93.06 347.95,103.34 337.13,103.34 333.79,93.06" fill="#fff" stroke="#0000ff" stroke-width="1.1"/>
<path d="M333.79,95.90H351.29M342.54,86.70V104.82" stroke="#0000ff" stroke-width="1.1"/>
<polygon points="360.55,85.60 369.30,91.96 365.96,102.24 355.14,102.24 351.80,91.96" fill="#fff" stroke="#0000ff" stroke-width="1.1"/>
<path d="M351.80,94.80H369.30M360.55,85.60V103.72" stroke="#0000ff" stroke-width="1.1"/>
<polygon points="378.56,85.10 387.31,91.46 383.96,101.74 373.15,101.74 369.81,91.46" fill="#fff" stroke="#0000ff" stroke-width="1.1"/>
<path d="M369.81,94.30H387.31M378.56,85.10V103.22" stroke="#0000ff" stroke-width="1.1"/>
<polygon points="396.56,84.00 405.31,90.36 401.97,100.64 391.16,100.64 387.81,90.36" fill="#fff" stroke="#0000ff" stroke-width="1.1"/>
<path d="M387.81,93.20H405.31M396.56,84.00V102.12" stroke="#0000ff" stroke-width="1.1"/>
<polygon points="414.57,82.10 423.32,88.46 419.98,98.74 409.16,98.74 405.82,88.46" fill="#fff" stroke="#0000ff" stroke-width="1.1"/>
<path d="M405.82,91.30H423.32M414.57,82.10V100.22" stroke="#0000ff" stroke-width="1.1"/>
<polygon points="432.58,81.60 441.33,87.96 437.99,98.25 427.17,98.25 423.83,87.96" fill="#fff" stroke="#0000ff" stroke-width="1.1"/>
<path d="M423.83,90.80H441.33M432.58,81.60V99.73" stroke="#0000ff" stroke-width="1.1"/>
<polygon points="450.59,80.83 459.34,87.19 456.00,97.47 445.18,97.47 441.84,87.19" fill="#fff" stroke="#0000ff" stroke-width="1.1"/>
<path d="M441.84,90.03H459.34M450.59,80.83V98.95" stroke="#0000ff" stroke-width="1.1"/>
<polygon points="468.60,79.14 477.35,85.50 474.00,95.78 463.19,95.78 459.85,85.50" fill="#fff" stroke="#0000ff" stroke-width="1.1"/>
<path d="M459.85,88.34H477.35M468.60,79.14V97.26" stroke="#0000ff" stroke-width="1.1"/>
<polygon points="486.60,76.95 495.35,83.31 492.01,93.60 481.20,93.60 477.85,83.31" fill="#fff" stroke="#0000ff" stroke-width="1.1"/>
<path d="M477.85,86.15H495.35M486.60,76.95V95.08" stroke="#0000ff" stroke-width="1.1"/>
<polygon points="504.61,72.87 513.36,79.23 510.02,89.52 499.20,89.52 495.86,79.23" fill="#fff" stroke="#0000ff" stroke-width="1.1"/>
<path d="M495.86,82.07H513.36M504.61,72.87V91.00" stroke="#0000ff" stroke-width="1.1"/>
<polygon points="522.62,73.29 531.37,79.65 528.03,89.94 517.21,89.94 513.87,79.65" fill="#fff" stroke="#0000ff" stroke-width="1.1"/>
<path d="M513.87,82.49H531.37M522.62,73.29V91.42" stroke="#0000ff" stroke-width="1.1"/>
<polygon points="540.63,74.21 549.38,80.57 546.04,90.85 535.22,90.85 531.88,80.57" fill="#fff" stroke="#0000ff" stroke-width="1.1"/>
<path d="M531.88,83.41H549.38M540.63,74.21V92.33" stroke="#0000ff" stroke-width="1.1"/>
<polygon points="558.64,75.13 567.39,81.49 564.04,91.77 553.23,91.77 549.89,81.49" fill="#fff" stroke="#0000ff" stroke-width="1.1"/>
<path d="M549.89,84.33H567.39M558.64,75.13V93.25" stroke="#0000ff" stroke-width="1.1"/>
<polygon points="576.64,76.06 585.39,82.41 582.05,92.70 571.24,92.70 567.89,82.41" fill="#fff" stroke="#0000ff" stroke-width="1.1"/>
<path d="M567.89,85.26H585.39M576.64,76.06V94.18" stroke="#0000ff" stroke-width="1.1"/>
<polygon points="594.65,76.68 603.40,83.04 600.06,93.32 589.24,93.32 585.90,83.04" fill="#fff" stroke="#0000ff" stroke-width="1.1"/>
<path d="M585.90,85.88H603.40M594.65,76.68V94.81" stroke="#0000ff" stroke-width="1.1"/>
<polygon points="612.66,76.91 621.41,83.27 618.07,93.56 607.25,93.56 603.91,83.27" fill="#fff" stroke="#0000ff" stroke-width="1.1"/>
<path d="M603.91,86.11H621.41M612.66,76.91V95.04" stroke="#0000ff" stroke-width="1.1"/>
<polygon points="630.67,77.36 639.42,83.72 636.08,94.00 625.26,94.00 621.92,83.72" fill="#fff" stroke="#0000ff" stroke-width="1.1"/>
<path d="M621.92,86.56H639.42M630.67,77.36V95.48" stroke="#0000ff" stroke-width="1.1"/>
<polygon points="648.68,78.00 657.43,84.36 654.08,94.64 643.27,94.64 639.93,84.36" fill="#fff" stroke="#0000ff" stroke-width="1.1"/>
<path d="M639.93,87.20H657.43M648.68,78.00V96.12" stroke="#0000ff" stroke-width="1.1"/>
<polygon points="666.68,78.86 675.43,85.21 672.09,95.50 661.28,95.50 657.93,85.21" fill="#fff" stroke="#0000ff" stroke-width="1.1"/>
<path d="M657.93,88.06H675.43M666.68,78.86V96.98" stroke="#0000ff" stroke-width="1.1"/>
<polygon points="684.69,79.81 693.44,86.17 690.10,96.45 679.28,96.45 675.94,86.17" fill="#fff" stroke="#0000ff" stroke-width="1.1"/>
<path d="M675.94,89.01H693.44M684.69,79.81V97.93" stroke="#0000ff" stroke-width="1.1"/>
<polygon points="702.70,81.77 711.45,88.13 708.11,98.41 697.29,98.41 693.95,88.13" fill="#fff" stroke="#0000ff" stroke-width="1.1"/>
<path d="M693.95,90.97H711.45M702.70,81.77V99.90" stroke="#0000ff" stroke-width="1.1"/>
<polygon points="720.71,82.75 729.46,89.10 726.12,99.39 715.30,99.39 711.96,89.10" fill="#fff" stroke="#0000ff" stroke-width="1.1"/>
<path d="M711.96,91.95H729.46M720.71,82.75V100.87" stroke="#0000ff" stroke-width="1.1"/>
<polygon points="738.72,83.74 747.47,90.09 744.12,100.38 733.31,100.38 729.97,90.09" fill="#fff" stroke="#0000ff" stroke-width="1.1"/>
<path d="M729.97,92.94H747.47M738.72,83.74V101.86" stroke="#0000ff" stroke-width="1.1"/>
<polygon points="756.72,84.84 765.47,91.20 762.13,101.48 751.32,101.48 747.97,91.20" fill="#fff" stroke="#0000ff" stroke-width="1.1"/>
<path d="M747.97,94.04H765.47M756.72,84.84V102.96" stroke="#0000ff" stroke-width="1.1"/>
<polygon points="774.73,86.35 783.48,92.71 780.14,103.00 769.32,103.00 765.98,92.71" fill="#fff" stroke="#0000ff" stroke-width="1.1"/>
<path d="M765.98,95.55H783.48M774.73,86.35V104.48" stroke="#0000ff" stroke-width="1.1"/>
<polygon points="792.74,87.79 801.49,94.14 798.15,104.43 787.33,104.43 783.99,94.14" fill="#fff" stroke="#0000ff" stroke-width="1.1"/>
<path d="M783.99,96.99H801.49M792.74,87.79V105.91" stroke="#0000ff" stroke-width="1.1"/>
<polygon points="810.75,88.94 819.50,95.29 816.16,105.58 805.34,105.58 802.00,95.29" fill="#fff" stroke="#0000ff" stroke-width="1.1"/>
<path d="M802.00,98.14H819.50M810.75,88.94V107.06" stroke="#0000ff" stroke-width="1.1"/>
<polygon points="828.76,90.93 837.51,97.29 834.16,107.57 823.35,107.57 820.01,97.29" fill="#fff" stroke="#0000ff" stroke-width="1.1"/>
<path d="M820.01,100.13H837.51M828.76,90.93V109.05" stroke="#0000ff" stroke-width="1.1"/>
<polygon points="846.76,93.30 855.51,99.66 852.17,109.95 841.36,109.95 838.01,99.66" fill="#fff" stroke="#0000ff" stroke-width="1.1"/>
<path d="M838.01,102.50H855.51M846.76,93.30V111.43" stroke="#0000ff" stroke-width="1.1"/>
<polygon points="864.77,95.02 873.52,101.38 870.18,111.66 859.36,111.66 856.02,101.38" fill="#fff" stroke="#0000ff" stroke-width="1.1"/>
<path d="M856.02,104.22H873.52M864.77,95.02V113.15" stroke="#0000ff" stroke-width="1.1"/>
<polygon points="882.78,97.09 891.53,103.45 888.19,113.73 877.37,113.73 874.03,103.45" fill="#fff" stroke="#0000ff" stroke-width="1.1"/>
<path d="M874.03,106.29H891.53M882.78,97.09V115.21" stroke="#0000ff" stroke-width="1.1"/>
<polygon points="900.79,100.18 909.54,106.54 906.20,116.82 895.38,116.82 892.04,106.54" fill="#fff" stroke="#0000ff" stroke-width="1.1"/>
<path d="M892.04,109.38H909.54M900.79,100.18V118.30" stroke="#0000ff" stroke-width="1.1"/>
<polygon points="918.80,103.68 927.55,110.04 924.20,120.33 913.39,120.33 910.05,110.04" fill="#fff" stroke="#0000ff" stroke-width="1.1"/>
<path d="M910.05,112.88H927.55M918.80,103.68V121.81" stroke="#0000ff" stroke-width="1.1"/>
<polygon points="936.80,106.46 945.55,112.82 942.21,123.11 931.40,123.11 928.05,112.82" fill="#fff" stroke="#0000ff" stroke-width="1.1"/>
<path d="M928.05,115.66H945.55M936.80,106.46V124.59" stroke="#0000ff" stroke-width="1.1"/>
<polygon points="954.81,110.02 963.56,116.37 960.22,126.66 949.40,126.66 946.06,116.37" fill="#fff" stroke="#0000ff" stroke-width="1.1"/>
<path d="M946.06,119.22H963.56M954.81,110.02V128.14" stroke="#0000ff" stroke-width="1.1"/>
<polygon points="972.82,114.19 981.57,120.55 978.23,130.84 967.41,130.84 964.07,120.55" fill="#fff" stroke="#0000ff" stroke-width="1.1"/>
<path d="M964.07,123.39H981.57M972.82,114.19V132.32" stroke="#0000ff" stroke-width="1.1"/>
<polygon points="990.83,118.14 999.58,124.50 996.24,134.78 985.42,134.78 982.08,124.50" fill="#fff" stroke="#0000ff" stroke-width="1.1"/>
<path d="M982.08,127.34H999.58M990.83,118.14V136.26" stroke="#0000ff" stroke-width="1.1"/>
<polygon points="1008.84,123.39 1017.59,129.75 1014.24,140.03 1003.43,140.03 1000.09,129.75" fill="#fff" stroke="#0000ff" stroke-width="1.1"/>
<path d="M1000.09,132.59H1017.59M1008.84,123.39V141.52" stroke="#0000ff" stroke-width="1.1"/>
<polygon points="1026.84,130.68 1035.59,137.04 1032.25,147.33 1021.44,147.33 1018.09,137.04" fill="#fff" stroke="#0000ff" stroke-width="1.1"/>
<path d="M1018.09,139.88H1035.59M1026.84,130.68V148.81" stroke="#0000ff" stroke-width="1.1"/>
<polygon points="1044.85,139.20 1053.60,145.56 1050.26,155.84 1039.44,155.84 1036.10,145.56" fill="#fff" stroke="#0000ff" stroke-width="1.1"/>
<path d="M1036.10,148.40H1053.60M1044.85,139.20V157.32" stroke="#0000ff" stroke-width="1.1"/>
<polygon points="1062.86,146.88 1071.61,153.24 1068.27,163.53 1057.45,163.53 1054.11,153.24" fill="#fff" stroke="#0000ff" stroke-width="1.1"/>
<path d="M1054.11,156.08H1071.61M1062.86,146.88V165.01" stroke="#0000ff" stroke-width="1.1"/>
<polygon points="1080.87,159.52 1089.62,165.88 1086.28,176.17 1075.46,176.17 1072.12,165.88" fill="#fff" stroke="#0000ff" stroke-width="1.1"/>
<path d="M1072.12,168.72H1089.62M1080.87,159.52V177.65" stroke="#0000ff" stroke-width="1.1"/>
<polygon points="1098.88,173.45 1107.63,179.81 1104.28,190.09 1093.47,190.09 1090.13,179.81" fill="#fff" stroke="#0000ff" stroke-width="1.1"/>
<path d="M1090.13,182.65H1107.63M1098.88,173.45V191.57" stroke="#0000ff" stroke-width="1.1"/>
<polygon points="1116.88,191.09 1125.63,197.45 1122.29,207.73 1111.48,207.73 1108.13,197.45" fill="#fff" stroke="#0000ff" stroke-width="1.1"/>
<path d="M1108.13,200.29H1125.63M1116.88,191.09V209.21" stroke="#0000ff" stroke-width="1.1"/>
<polygon points="1134.89,216.55 1143.64,222.91 1140.30,233.20 1129.48,233.20 1126.14,222.91" fill="#fff" stroke="#0000ff" stroke-width="1.1"/>
<path d="M1126.14,225.75H1143.64M1134.89,216.55V234.68" stroke="#0000ff" stroke-width="1.1"/>
<polygon points="1152.90,251.97 1161.65,258.33 1158.31,268.62 1147.49,268.62 1144.15,258.33" fill="#fff" stroke="#0000ff" stroke-width="1.1"/>
<path d="M1144.15,261.17H1161.65M1152.90,251.97V270.10" stroke="#0000ff" stroke-width="1.1"/>
<polygon points="1170.91,304.40 1179.66,310.76 1176.32,321.04 1165.50,321.04 1162.16,310.76" fill="#fff" stroke="#0000ff" stroke-width="1.1"/>
<path d="M1162.16,313.60H1179.66M1170.91,304.40V322.52" stroke="#0000ff" stroke-width="1.1"/>
<polygon points="1188.92,416.50 1197.67,422.86 1194.32,433.14 1183.51,433.14 1180.17,422.86" fill="#fff" stroke="#0000ff" stroke-width="1.1"/>
<path d="M1180.17,425.70H1197.67M1188.92,416.50V434.62" stroke="#0000ff" stroke-width="1.1"/>
<polygon points="1206.92,762.80 1215.67,769.16 1212.33,779.44 1201.52,779.44 1198.17,769.16" fill="#fff" stroke="#0000ff" stroke-width="1.1"/>
<path d="M1198.17,772.00H1215.67M1206.92,762.80V780.92" stroke="#0000ff" stroke-width="1.1"/>
<polygon points="1224.93,762.80 1233.68,769.16 1230.34,779.44 1219.52,779.44 1216.18,769.16" fill="#fff" stroke="#0000ff" stroke-width="1.1"/>
<path d="M1216.18,772.00H1233.68M1224.93,762.80V780.92" stroke="#0000ff" stroke-width="1.1"/>
<polygon points="1242.94,762.80 1251.69,769.16 1248.35,779.44 1237.53,779.44 1234.19,769.16" fill="#fff" stroke="#0000ff" stroke-width="1.1"/>
<path d="M1234.19,772.00H1251.69M1242.94,762.80V780.92" stroke="#0000ff" stroke-width="1.1"/>
<polygon points="1260.95,762.80 1269.70,769.16 1266.36,779.44 1255.54,779.44 1252.20,769.16" fill="#fff" stroke="#0000ff" stroke-width="1.1"/>
<path d="M1252.20,772.00H1269.70M1260.95,762.80V780.92" stroke="#0000ff" stroke-width="1.1"/>
<polygon points="1278.96,762.80 1287.71,769.16 1284.36,779.44 1273.55,779.44 1270.21,769.16" fill="#fff" stroke="#0000ff" stroke-width="1.1"/>
<path d="M1270.21,772.00H1287.71M1278.96,762.80V780.92" stroke="#0000ff" stroke-width="1.1"/>
<polygon points="1296.96,762.80 1305.71,769.16 1302.37,779.44 1291.56,779.44 1288.21,769.16" fill="#fff" stroke="#0000ff" stroke-width="1.1"/>
<path d="M1288.21,772.00H1305.71M1296.96,762.80V780.92" stroke="#0000ff" stroke-width="1.1"/>
<polygon points="1314.97,762.80 1323.72,769.16 1320.38,779.44 1309.56,779.44 1306.22,769.16" fill="#fff" stroke="#0000ff" stroke-width="1.1"/>
<path d="M1306.22,772.00H1323.72M1314.97,762.80V780.92" stroke="#0000ff" stroke-width="1.1"/>
<polygon points="1332.98,762.80 1341.73,769.16 1338.39,779.44 1327.57,779.44 1324.23,769.16" fill="#fff" stroke="#0000ff" stroke-width="1.1"/>
<path d="M1324.23,772.00H1341.73M1332.98,762.80V780.92" stroke="#0000ff" stroke-width="1.1"/>
<polyline points="252.50,100.30 270.51,99.20 288.52,98.30 306.52,97.30 324.53,96.80 342.54,95.90 360.55,94.80 378.56,94.30 396.56,93.20 414.57,91.30 432.58,90.80 450.59,90.00 468.60,88.30 486.60,86.10 504.61,82.00 522.62,82.40 540.63,83.30 558.64,84.20 576.64,85.10 594.65,85.70 612.66,85.90 630.67,86.30 648.68,86.90 666.68,87.70 684.69,88.60 702.70,90.50 720.71,91.40 738.72,92.30 756.72,93.30 774.73,94.70 792.74,96.00 810.75,97.00 828.76,98.80 846.76,101.00 864.77,102.50 882.78,104.30 900.79,107.10 918.80,110.30 936.80,112.70 954.81,115.80 972.82,119.50 990.83,122.80 1008.84,127.40 1026.84,133.90 1044.85,141.50 1062.86,148.10 1080.87,159.60 1098.88,172.10 1116.88,187.90 1134.89,211.50 1152.90,245.00 1170.91,300.00 1188.92,409.50 1206.92,772.00 1224.93,772.00 1242.94,772.00 1260.95,772.00 1278.96,772.00 1296.96,772.00 1314.97,772.00 1332.98,772.00" fill="none" stroke="#008000" stroke-width="4.5" stroke-linejoin="round"/>
<rect x="244.70" y="92.50" width="15.6" height="15.6" fill="#fff" stroke="#008000" stroke-width="1.2"/>
<rect x="262.71" y="91.40" width="15.6" height="15.6" fill="#fff" stroke="#008000" stroke-width="1.2"/>
<rect x="280.72" y="90.50" width="15.6" height="15.6" fill="#fff" stroke="#008000" stroke-width="1.2"/>
<rect x="298.72" y="89.50" width="15.6" height="15.6" fill="#fff" stroke="#008000" stroke-width="1.2"/>
<rect x="316.73" y="89.00" width="15.6" height="15.6" fill="#fff" stroke="#008000" stroke-width="1.2"/>
<rect x="334.74" y="88.10" width="15.6" height="15.6" fill="#fff" stroke="#008000" stroke-width="1.2"/>
<rect x="352.75" y="87.00" width="15.6" height="15.6" fill="#fff" stroke="#008000" stroke-width="1.2"/>
<rect x="370.76" y="86.50" width="15.6" height="15.6" fill="#fff" stroke="#008000" stroke-width="1.2"/>
<rect x="388.76" y="85.40" width="15.6" height="15.6" fill="#fff" stroke="#008000" stroke-width="1.2"/>
<rect x="406.77" y="83.50" width="15.6" height="15.6" fill="#fff" stroke="#008000" stroke-width="1.2"/>
<rect x="424.78" y="83.00" width="15.6" height="15.6" fill="#fff" stroke="#008000" stroke-width="1.2"/>
<rect x="442.79" y="82.20" width="15.6" height="15.6" fill="#fff" stroke="#008000" stroke-width="1.2"/>
<rect x="460.80" y="80.50" width="15.6" height="15.6" fill="#fff" stroke="#008000" stroke-width="1.2"/>
<rect x="478.80" y="78.30" width="15.6" height="15.6" fill="#fff" stroke="#008000" stroke-width="1.2"/>
<rect x="496.81" y="74.20" width="15.6" height="15.6" fill="#fff" stroke="#008000" stroke-width="1.2"/>
<rect x="514.82" y="74.60" width="15.6" height="15.6" fill="#fff" stroke="#008000" stroke-width="1.2"/>
<rect x="532.83" y="75.50" width="15.6" height="15.6" fill="#fff" stroke="#008000" stroke-width="1.2"/>
<rect x="550.84" y="76.40" width="15.6" height="15.6" fill="#fff" stroke="#008000" stroke-width="1.2"/>
<rect x="568.84" y="77.30" width="15.6" height="15.6" fill="#fff" stroke="#008000" stroke-width="1.2"/>
<rect x="586.85" y="77.90" width="15.6" height="15.6" fill="#fff" stroke="#008000" stroke-width="1.2"/>
<rect x="604.86" y="78.10" width="15.6" height="15.6" fill="#fff" stroke="#008000" stroke-width="1.2"/>
<rect x="622.87" y="78.50" width="15.6" height="15.6" fill="#fff" stroke="#008000" stroke-width="1.2"/>
<rect x="640.88" y="79.10" width="15.6" height="15.6" fill="#fff" stroke="#008000" stroke-width="1.2"/>
<rect x="658.88" y="79.90" width="15.6" height="15.6" fill="#fff" stroke="#008000" stroke-width="1.2"/>
<rect x="676.89" y="80.80" width="15.6" height="15.6" fill="#fff" stroke="#008000" stroke-width="1.2"/>
<rect x="694.90" y="82.70" width="15.6" height="15.6" fill="#fff" stroke="#008000" stroke-width="1.2"/>
<rect x="712.91" y="83.60" width="15.6" height="15.6" fill="#fff" stroke="#008000" stroke-width="1.2"/>
<rect x="730.92" y="84.50" width="15.6" height="15.6" fill="#fff" stroke="#008000" stroke-width="1.2"/>
<rect x="748.92" y="85.50" width="15.6" height="15.6" fill="#fff" stroke="#008000" stroke-width="1.2"/>
<rect x="766.93" y="86.90" width="15.6" height="15.6" fill="#fff" stroke="#008000" stroke-width="1.2"/>
<rect x="784.94" y="88.20" width="15.6" height="15.6" fill="#fff" stroke="#008000" stroke-width="1.2"/>
<rect x="802.95" y="89.20" width="15.6" height="15.6" fill="#fff" stroke="#008000" stroke-width="1.2"/>
<rect x="820.96" y="91.00" width="15.6" height="15.6" fill="#fff" stroke="#008000" stroke-width="1.2"/>
<rect x="838.96" y="93.20" width="15.6" height="15.6" fill="#fff" stroke="#008000" stroke-width="1.2"/>
<rect x="856.97" y="94.70" width="15.6" height="15.6" fill="#fff" stroke="#008000" stroke-width="1.2"/>
<rect x="874.98" y="96.50" width="15.6" height="15.6" fill="#fff" stroke="#008000" stroke-width="1.2"/>
<rect x="892.99" y="99.30" width="15.6" height="15.6" fill="#fff" stroke="#008000" stroke-width="1.2"/>
<rect x="911.00" y="102.50" width="15.6" height="15.6" fill="#fff" stroke="#008000" stroke-width="1.2"/>
<rect x="929.00" y="104.90" width="15.6" height="15.6" fill="#fff" stroke="#008000" stroke-width="1.2"/>
<rect x="947.01" y="108.00" width="15.6" height="15.6" fill="#fff" stroke="#008000" stroke-width="1.2"/>
<rect x="965.02" y="111.70" width="15.6" height="15.6" fill="#fff" stroke="#008000" stroke-width="1.2"/>
<rect x="983.03" y="115.00" width="15.6" height="15.6" fill="#fff" stroke="#008000" stroke-width="1.2"/>
<rect x="1001.04" y="119.60" width="15.6" height="15.6" fill="#fff" stroke="#008000" stroke-width="1.2"/>
<rect x="1019.04" y="126.10" width="15.6" height="15.6" fill="#fff" stroke="#008000" stroke-width="1.2"/>
<rect x="1037.05" y="133.70" width="15.6" height="15.6" fill="#fff" stroke="#008000" stroke-width="1.2"/>
<rect x="1055.06" y="140.30" width="15.6" height="15.6" fill="#fff" stroke="#008000" stroke-width="1.2"/>
<rect x="1073.07" y="151.80" width="15.6" height="15.6" fill="#fff" stroke="#008000" stroke-width="1.2"/>
<rect x="1091.08" y="164.30" width="15.6" height="15.6" fill="#fff" stroke="#008000" stroke-width="1.2"/>
<rect x="1109.08" y="180.10" width="15.6" height="15.6" fill="#fff" stroke="#008000" stroke-width="1.2"/>
<rect x="1127.09" y="203.70" width="15.6" height="15.6" fill="#fff" stroke="#008000" stroke-width="1.2"/>
<rect x="1145.10" y="237.20" width="15.6" height="15.6" fill="#fff" stroke="#008000" stroke-width="1.2"/>
<rect x="1163.11" y="292.20" width="15.6" height="15.6" fill="#fff" stroke="#008000" stroke-width="1.2"/>
<rect x="1181.12" y="401.70" width="15.6" height="15.6" fill="#fff" stroke="#008000" stroke-width="1.2"/>
<rect x="1199.12" y="764.20" width="15.6" height="15.6" fill="#fff" stroke="#008000" stroke-width="1.2"/>
<rect x="1217.13" y="764.20" width="15.6" height="15.6" fill="#fff" stroke="#008000" stroke-width="1.2"/>
<rect x="1235.14" y="764.20" width="15.6" height="15.6" fill="#fff" stroke="#008000" stroke-width="1.2"/>
<rect x="1253.15" y="764.20" width="15.6" height="15.6" fill="#fff" stroke="#008000" stroke-width="1.2"/>
<rect x="1271.16" y="764.20" width="15.6" height="15.6" fill="#fff" stroke="#008000" stroke-width="1.2"/>
<rect x="1289.16" y="764.20" width="15.6" height="15.6" fill="#fff" stroke="#008000" stroke-width="1.2"/>
<rect x="1307.17" y="764.20" width="15.6" height="15.6" fill="#fff" stroke="#008000" stroke-width="1.2"/>
<rect x="1325.18" y="764.20" width="15.6" height="15.6" fill="#fff" stroke="#008000" stroke-width="1.2"/>
</g>
<line x1="269.70000000000005" y1="530.60" x2="350.7" y2="530.60" stroke="#000000" stroke-width="4.2" stroke-linecap="round"/>
<circle cx="309.80" cy="530.60" r="9.2" fill="#000000"/>
<line x1="514.3000000000001" y1="530.60" x2="598.5" y2="530.60" stroke="#ff8000" stroke-width="4.2" stroke-linecap="round"/>
<circle cx="556.30" cy="530.60" r="9.2" fill="#ff8000"/>
<line x1="269.70000000000005" y1="577.30" x2="350.7" y2="577.30" stroke="#ff0000" stroke-width="4.2" stroke-linecap="round"/>
<circle cx="309.80" cy="577.30" r="9.2" fill="#ff0000"/>
<line x1="514.3000000000001" y1="577.30" x2="598.5" y2="577.30" stroke="#000000" stroke-width="4.2" stroke-linecap="round"/>
<circle cx="556.30" cy="577.30" r="8.8" fill="#fff" stroke="#000000" stroke-width="1.2"/>
<line x1="269.70000000000005" y1="624.00" x2="350.7" y2="624.00" stroke="#0000ff" stroke-width="4.2" stroke-linecap="round"/>
<circle cx="309.80" cy="624.00" r="9.2" fill="#0000ff"/>
<line x1="514.3000000000001" y1="624.00" x2="598.5" y2="624.00" stroke="#ff0000" stroke-width="4.2" stroke-linecap="round"/>
<polygon points="551.30,614.00 551.30,634.00 566.30,624.00" fill="#fff" stroke="#ff0000" stroke-width="1.1"/>
<line x1="269.70000000000005" y1="670.70" x2="350.7" y2="670.70" stroke="#008000" stroke-width="4.2" stroke-linecap="round"/>
<circle cx="309.80" cy="670.70" r="9.2" fill="#008000"/>
<line x1="514.3000000000001" y1="670.70" x2="598.5" y2="670.70" stroke="#0000ff" stroke-width="4.2" stroke-linecap="round"/>
<polygon points="556.30,661.50 565.05,667.86 561.71,678.14 550.89,678.14 547.55,667.86" fill="#fff" stroke="#0000ff" stroke-width="1.1"/>
<path d="M547.55,670.70H565.05M556.30,661.50V679.62" stroke="#0000ff" stroke-width="1.1"/>
<line x1="269.70000000000005" y1="717.40" x2="350.7" y2="717.40" stroke="#ff00ff" stroke-width="4.2" stroke-linecap="round"/>
<circle cx="309.80" cy="717.40" r="9.2" fill="#ff00ff"/>
<line x1="514.3000000000001" y1="717.40" x2="598.5" y2="717.40" stroke="#008000" stroke-width="4.2" stroke-linecap="round"/>
<rect x="548.50" y="709.60" width="15.6" height="15.6" fill="#fff" stroke="#008000" stroke-width="1.2"/>
<rect x="1434.40" y="75.00" width="3.20" height="698.60" fill="#000"/>
<rect x="1434.40" y="770.40" width="1006.60" height="3.20" fill="#000"/>
<rect x="1434.40" y="772.00" width="3.20" height="15.60" fill="#000"/>
<rect x="1594.82" y="772.00" width="3.20" height="15.60" fill="#000"/>
<rect x="1755.23" y="772.00" width="3.20" height="15.60" fill="#000"/>
<rect x="1915.65" y="772.00" width="3.20" height="15.60" fill="#000"/>
<rect x="2076.06" y="772.00" width="3.20" height="15.60" fill="#000"/>
<rect x="2236.48" y="772.00" width="3.20" height="15.60" fill="#000"/>
<rect x="2396.90" y="772.00" width="3.20" height="15.60" fill="#000"/>
<rect x="1420.40" y="736.30" width="15.60" height="3.20" fill="#000"/>
<rect x="1420.40" y="666.68" width="15.60" height="3.20" fill="#000"/>
<rect x="1420.40" y="597.06" width="15.60" height="3.20" fill="#000"/>
<rect x="1420.40" y="527.44" width="15.60" height="3.20" fill="#000"/>
<rect x="1420.40" y="457.82" width="15.60" height="3.20" fill="#000"/>
<rect x="1420.40" y="388.20" width="15.60" height="3.20" fill="#000"/>
<rect x="1420.40" y="318.58" width="15.60" height="3.20" fill="#000"/>
<rect x="1420.40" y="248.96" width="15.60" height="3.20" fill="#000"/>
<rect x="1420.40" y="179.34" width="15.60" height="3.20" fill="#000"/>
<rect x="1420.40" y="109.72" width="15.60" height="3.20" fill="#000"/>
<rect x="250.90" y="872.50" width="3.20" height="698.60" fill="#000"/>
<rect x="250.90" y="1567.90" width="1006.10" height="3.20" fill="#000"/>
<rect x="250.90" y="1569.50" width="3.20" height="15.60" fill="#000"/>
<rect x="411.32" y="1569.50" width="3.20" height="15.60" fill="#000"/>
<rect x="571.73" y="1569.50" width="3.20" height="15.60" fill="#000"/>
<rect x="732.15" y="1569.50" width="3.20" height="15.60" fill="#000"/>
<rect x="892.56" y="1569.50" width="3.20" height="15.60" fill="#000"/>
<rect x="1052.98" y="1569.50" width="3.20" height="15.60" fill="#000"/>
<rect x="1213.40" y="1569.50" width="3.20" height="15.60" fill="#000"/>
<rect x="236.90" y="1567.90" width="15.60" height="3.20" fill="#000"/>
<rect x="236.90" y="1451.98" width="15.60" height="3.20" fill="#000"/>
<rect x="236.90" y="1336.06" width="15.60" height="3.20" fill="#000"/>
<rect x="236.90" y="1220.14" width="15.60" height="3.20" fill="#000"/>
<rect x="236.90" y="1104.22" width="15.60" height="3.20" fill="#000"/>
<rect x="236.90" y="988.30" width="15.60" height="3.20" fill="#000"/>
<rect x="236.90" y="872.38" width="15.60" height="3.20" fill="#000"/>
<rect x="1432.90" y="872.50" width="3.20" height="698.60" fill="#000"/>
<rect x="1432.90" y="1567.90" width="1006.10" height="3.20" fill="#000"/>
<rect x="1432.90" y="1569.50" width="3.20" height="15.60" fill="#000"/>
<rect x="1593.32" y="1569.50" width="3.20" height="15.60" fill="#000"/>
<rect x="1753.73" y="1569.50" width="3.20" height="15.60" fill="#000"/>
<rect x="1914.15" y="1569.50" width="3.20" height="15.60" fill="#000"/>
<rect x="2074.56" y="1569.50" width="3.20" height="15.60" fill="#000"/>
<rect x="2234.98" y="1569.50" width="3.20" height="15.60" fill="#000"/>
<rect x="2395.40" y="1569.50" width="3.20" height="15.60" fill="#000"/>
<rect x="1418.90" y="1567.90" width="15.60" height="3.20" fill="#000"/>
<rect x="1418.90" y="1504.68" width="15.60" height="3.20" fill="#000"/>
<rect x="1418.90" y="1441.46" width="15.60" height="3.20" fill="#000"/>
<rect x="1418.90" y="1378.24" width="15.60" height="3.20" fill="#000"/>
<rect x="1418.90" y="1315.02" width="15.60" height="3.20" fill="#000"/>
<rect x="1418.90" y="1251.80" width="15.60" height="3.20" fill="#000"/>
<rect x="1418.90" y="1188.58" width="15.60" height="3.20" fill="#000"/>
<rect x="1418.90" y="1125.36" width="15.60" height="3.20" fill="#000"/>
<rect x="1418.90" y="1062.14" width="15.60" height="3.20" fill="#000"/>
<rect x="1418.90" y="998.92" width="15.60" height="3.20" fill="#000"/>
<rect x="1418.90" y="935.70" width="15.60" height="3.20" fill="#000"/>
<rect x="1418.90" y="872.48" width="15.60" height="3.20" fill="#000"/>
<polyline points="1476.10,725.20 1516.21,565.00 1556.31,448.40 1596.42,364.00 1636.52,301.60 1676.62,255.50 1716.73,221.00 1756.83,194.90 1796.94,175.30 1837.04,160.60 1877.14,148.40 1917.25,138.90 1957.35,132.30 1997.46,125.80 2037.56,121.90 2077.66,118.40 2117.77,114.90 2157.87,113.40 2197.98,111.40 2238.08,109.90 2278.18,108.90 2318.29,107.80 2358.39,107.40 2398.50,107.40" fill="none" stroke="#ff8000" stroke-width="7.5" stroke-linejoin="round"/>
<circle cx="1476.10" cy="725.20" r="17.3" fill="#0000a0"/>
<circle cx="1516.21" cy="565.00" r="17.3" fill="#0000a0"/>
<circle cx="1556.31" cy="448.40" r="17.3" fill="#0000a0"/>
<circle cx="1596.42" cy="364.00" r="17.3" fill="#0000a0"/>
<circle cx="1636.52" cy="301.60" r="17.3" fill="#0000a0"/>
<circle cx="1676.62" cy="255.50" r="17.3" fill="#0000a0"/>
<circle cx="1716.73" cy="221.00" r="17.3" fill="#0000a0"/>
<circle cx="1756.83" cy="194.90" r="17.3" fill="#0000a0"/>
<circle cx="1796.94" cy="175.30" r="17.3" fill="#0000a0"/>
<circle cx="1837.04" cy="160.60" r="17.3" fill="#0000a0"/>
<circle cx="1877.14" cy="148.40" r="17.3" fill="#0000a0"/>
<circle cx="1917.25" cy="138.90" r="17.3" fill="#0000a0"/>
<circle cx="1957.35" cy="132.30" r="17.3" fill="#0000a0"/>
<circle cx="1997.46" cy="125.80" r="17.3" fill="#0000a0"/>
<circle cx="2037.56" cy="121.90" r="17.3" fill="#0000a0"/>
<circle cx="2077.66" cy="118.40" r="17.3" fill="#0000a0"/>
<circle cx="2117.77" cy="114.90" r="17.3" fill="#0000a0"/>
<circle cx="2157.87" cy="113.40" r="17.3" fill="#0000a0"/>
<circle cx="2197.98" cy="111.40" r="17.3" fill="#0000a0"/>
<circle cx="2238.08" cy="109.90" r="17.3" fill="#0000a0"/>
<circle cx="2278.18" cy="108.90" r="17.3" fill="#0000a0"/>
<circle cx="2318.29" cy="107.80" r="17.3" fill="#0000a0"/>
<circle cx="2358.39" cy="107.40" r="17.3" fill="#0000a0"/>
<circle cx="2398.50" cy="107.40" r="17.3" fill="#0000a0"/>
<line x1="298.09" y1="1458.88" x2="327.22" y2="1343.12" stroke="#ff8000" stroke-width="7.0" stroke-linecap="round"/>
<line x1="342.70" y1="1301.14" x2="362.82" y2="1260.56" stroke="#ff8000" stroke-width="7.0" stroke-linecap="round"/>
<line x1="387.78" y1="1223.60" x2="397.95" y2="1212.20" stroke="#ff8000" stroke-width="7.0" stroke-linecap="round"/>
<line x1="431.69" y1="1183.00" x2="434.25" y2="1181.30" stroke="#ff8000" stroke-width="7.0" stroke-linecap="round"/>
<circle cx="292.60" cy="1480.70" r="17.3" fill="#0000a0"/>
<circle cx="332.71" cy="1321.30" r="17.3" fill="#0000a0"/>
<circle cx="372.81" cy="1240.40" r="17.3" fill="#0000a0"/>
<circle cx="412.92" cy="1195.40" r="17.3" fill="#0000a0"/>
<circle cx="453.02" cy="1168.90" r="17.3" fill="#0000a0"/>
<circle cx="493.12" cy="1152.40" r="17.3" fill="#0000a0"/>
<circle cx="533.23" cy="1142.20" r="17.3" fill="#0000a0"/>
<circle cx="573.33" cy="1135.50" r="17.3" fill="#0000a0"/>
<circle cx="613.44" cy="1131.70" r="17.3" fill="#0000a0"/>
<circle cx="653.54" cy="1129.90" r="17.3" fill="#0000a0"/>
<circle cx="693.64" cy="1129.30" r="17.3" fill="#0000a0"/>
<circle cx="733.75" cy="1129.30" r="17.3" fill="#0000a0"/>
<circle cx="773.85" cy="1129.90" r="17.3" fill="#0000a0"/>
<circle cx="813.96" cy="1132.00" r="17.3" fill="#0000a0"/>
<circle cx="854.06" cy="1133.50" r="17.3" fill="#0000a0"/>
<circle cx="894.16" cy="1135.30" r="17.3" fill="#0000a0"/>
<circle cx="934.27" cy="1137.00" r="17.3" fill="#0000a0"/>
<circle cx="974.37" cy="1138.50" r="17.3" fill="#0000a0"/>
<circle cx="1014.48" cy="1140.40" r="17.3" fill="#0000a0"/>
<circle cx="1054.58" cy="1143.00" r="17.3" fill="#0000a0"/>
<circle cx="1094.68" cy="1145.00" r="17.3" fill="#0000a0"/>
<circle cx="1134.79" cy="1146.50" r="17.3" fill="#0000a0"/>
<circle cx="1174.89" cy="1148.30" r="17.3" fill="#0000a0"/>
<circle cx="1215.00" cy="1149.90" r="17.3" fill="#0000a0"/>
<polyline points="1474.60,1530.70 1514.71,1372.00 1554.81,1257.60 1594.92,1174.10 1635.02,1112.90 1675.12,1068.10 1715.23,1034.50 1755.33,1008.30 1795.44,988.80 1835.54,973.40 1875.64,961.40 1915.75,951.70 1955.85,944.80 1995.96,938.90 2036.06,933.60 2076.16,930.30 2116.27,926.60 2156.37,925.00 2196.48,922.40 2236.58,920.50 2276.68,919.80 2316.79,918.00 2356.89,917.40 2397.00,917.30" fill="none" stroke="#ff8000" stroke-width="7.8" stroke-linejoin="round"/>
<circle cx="1474.60" cy="1530.70" r="17.3" fill="#0000a0"/>
<circle cx="1514.71" cy="1372.00" r="17.3" fill="#0000a0"/>
<circle cx="1554.81" cy="1257.60" r="17.3" fill="#0000a0"/>
<circle cx="1594.92" cy="1174.10" r="17.3" fill="#0000a0"/>
<circle cx="1635.02" cy="1112.90" r="17.3" fill="#0000a0"/>
<circle cx="1675.12" cy="1068.10" r="17.3" fill="#0000a0"/>
<circle cx="1715.23" cy="1034.50" r="17.3" fill="#0000a0"/>
<circle cx="1755.33" cy="1008.30" r="17.3" fill="#0000a0"/>
<circle cx="1795.44" cy="988.80" r="17.3" fill="#0000a0"/>
<circle cx="1835.54" cy="973.40" r="17.3" fill="#0000a0"/>
<circle cx="1875.64" cy="961.40" r="17.3" fill="#0000a0"/>
<circle cx="1915.75" cy="951.70" r="17.3" fill="#0000a0"/>
<circle cx="1955.85" cy="944.80" r="17.3" fill="#0000a0"/>
<circle cx="1995.96" cy="938.90" r="17.3" fill="#0000a0"/>
<circle cx="2036.06" cy="933.60" r="17.3" fill="#0000a0"/>
<circle cx="2076.16" cy="930.30" r="17.3" fill="#0000a0"/>
<circle cx="2116.27" cy="926.60" r="17.3" fill="#0000a0"/>
<circle cx="2156.37" cy="925.00" r="17.3" fill="#0000a0"/>
<circle cx="2196.48" cy="922.40" r="17.3" fill="#0000a0"/>
<circle cx="2236.58" cy="920.50" r="17.3" fill="#0000a0"/>
<circle cx="2276.68" cy="919.80" r="17.3" fill="#0000a0"/>
<circle cx="2316.79" cy="918.00" r="17.3" fill="#0000a0"/>
<circle cx="2356.89" cy="917.40" r="17.3" fill="#0000a0"/>
<circle cx="2397.00" cy="917.30" r="17.3" fill="#0000a0"/>
<g style="font-family:'Liberation Sans',Arial,Helvetica,sans-serif;font-weight:bold" fill="#000" stroke="#000" stroke-linejoin="round">
<text transform="translate(16.95,81.07) scale(0.39177,0.40000)" font-size="181.28" stroke-width="3.00">(a)</text>
<text transform="translate(1207.88,93.05) scale(0.38743,0.40000)" font-size="181.55" stroke-width="3.00">(b)</text>
<text transform="translate(10.94,888.09) scale(0.39284,0.40000)" font-size="181.02" stroke-width="3.00">(c)</text>
<text transform="translate(1223.10,890.09) scale(0.38717,0.40000)" font-size="181.02" stroke-width="3.00">(d)</text>
<text transform="translate(136.07,753.65) rotate(-90) scale(0.38284,0.40000)" font-size="146.79" stroke-width="3.00">Quantum efficiency / %</text>
<text transform="translate(563.50,902.82) scale(0.40095,0.40000)" font-size="141.44" stroke-width="3.00">Wavelength / nm</text>
<text transform="translate(1344.12,532.96) rotate(-90) scale(0.38245,0.40000)" font-size="147.32" stroke-width="3.00">PCE / %</text>
<text transform="translate(113.60,1309.00) rotate(-90) scale(0.39891,0.40000)" font-size="149.64" stroke-width="3.00">V</text>
<text transform="translate(129.20,1268.96) rotate(-90) scale(0.38735,0.40000)" font-size="100.91" stroke-width="3.00">oc</text>
<text transform="translate(113.25,1207.78) rotate(-90) scale(0.40216,0.40000)" font-size="143.62" stroke-width="3.00">/ V</text>
<text transform="translate(1331.70,1404.26) rotate(-90) scale(0.38126,0.40000)" font-size="149.64" stroke-width="3.00">J</text>
<text transform="translate(1347.30,1372.80) rotate(-90) scale(0.39734,0.40000)" font-size="100.91" stroke-width="3.00">sc</text>
<text transform="translate(1331.15,1312.87) rotate(-90) scale(0.39435,0.40000)" font-size="143.96" stroke-width="3.00">/ mA·cm</text>
<text transform="translate(1308.30,1060.64) rotate(-90) scale(0.41250,0.40000)" font-size="100.00" stroke-width="3.00">2</text>
<text transform="translate(1309.02,1084.52) rotate(-90) scale(0.54399,0.40000)" font-size="79.32" stroke-width="0.03">−</text>
<text transform="translate(418.20,1712.27) scale(0.39784,0.40000)" font-size="140.94" stroke-width="3.00">Absorber thickness / nm</text>
<text transform="translate(1600.00,1712.27) scale(0.39765,0.40000)" font-size="140.94" stroke-width="3.00">Absorber thickness / nm</text>
<text transform="translate(307.56,490.48) scale(0.39404,0.40000)" font-size="105.78" stroke-width="3.00">Absorber thickness</text>
<text transform="translate(360.94,543.43) scale(0.37526,0.40000)" font-size="92.61" stroke-width="3.00">100 nm</text>
<text transform="translate(608.08,543.43) scale(0.37526,0.40000)" font-size="92.61" stroke-width="3.00">600 nm</text>
<text transform="translate(361.98,590.13) scale(0.37526,0.40000)" font-size="92.61" stroke-width="3.00">200 nm</text>
<text transform="translate(607.74,590.13) scale(0.37526,0.40000)" font-size="92.61" stroke-width="3.00">700 nm</text>
<text transform="translate(362.33,636.83) scale(0.37526,0.40000)" font-size="92.61" stroke-width="3.00">300 nm</text>
<text transform="translate(608.26,636.83) scale(0.37526,0.40000)" font-size="92.61" stroke-width="3.00">800 nm</text>
<text transform="translate(362.68,683.53) scale(0.37526,0.40000)" font-size="92.61" stroke-width="3.00">400 nm</text>
<text transform="translate(608.08,683.53) scale(0.37526,0.40000)" font-size="92.61" stroke-width="3.00">900 nm</text>
<text transform="translate(362.16,730.23) scale(0.37526,0.40000)" font-size="92.61" stroke-width="3.00">500 nm</text>
<text transform="translate(607.04,730.23) scale(0.37526,0.40000)" font-size="92.61" stroke-width="3.00">1000 nm</text>
<text transform="translate(216.86,828.91) scale(0.37768,0.40000)" font-size="110.21" stroke-width="4.25">300</text>
<text transform="translate(397.15,828.91) scale(0.37768,0.40000)" font-size="110.21" stroke-width="4.25">400</text>
<text transform="translate(576.92,828.91) scale(0.37768,0.40000)" font-size="110.21" stroke-width="4.25">500</text>
<text transform="translate(756.89,828.91) scale(0.37768,0.40000)" font-size="110.21" stroke-width="4.25">600</text>
<text transform="translate(936.76,828.91) scale(0.37768,0.40000)" font-size="110.21" stroke-width="4.25">700</text>
<text transform="translate(1117.16,828.91) scale(0.37768,0.40000)" font-size="110.21" stroke-width="4.25">800</text>
<text transform="translate(1297.13,828.91) scale(0.37768,0.40000)" font-size="110.21" stroke-width="4.25">900</text>
<text transform="translate(204.31,785.41) scale(0.37768,0.40000)" font-size="110.21" stroke-width="4.25">0</text>
<text transform="translate(181.21,645.19) scale(0.37768,0.40000)" font-size="110.21" stroke-width="4.25">20</text>
<text transform="translate(181.21,504.97) scale(0.37768,0.40000)" font-size="110.21" stroke-width="4.25">40</text>
<text transform="translate(181.21,364.75) scale(0.37768,0.40000)" font-size="110.21" stroke-width="4.25">60</text>
<text transform="translate(181.21,224.53) scale(0.37768,0.40000)" font-size="110.21" stroke-width="4.25">80</text>
<text transform="translate(158.11,84.31) scale(0.37768,0.40000)" font-size="110.21" stroke-width="4.25">100</text>
<text transform="translate(1424.15,828.91) scale(0.37768,0.40000)" font-size="110.21" stroke-width="4.25">0</text>
<text transform="translate(1561.57,828.91) scale(0.37768,0.40000)" font-size="110.21" stroke-width="4.25">200</text>
<text transform="translate(1722.40,828.91) scale(0.37768,0.40000)" font-size="110.21" stroke-width="4.25">400</text>
<text transform="translate(1882.40,828.91) scale(0.37768,0.40000)" font-size="110.21" stroke-width="4.25">600</text>
<text transform="translate(2042.92,828.91) scale(0.37768,0.40000)" font-size="110.21" stroke-width="4.25">800</text>
<text transform="translate(2190.95,828.91) scale(0.37768,0.40000)" font-size="110.21" stroke-width="4.25">1000</text>
<text transform="translate(2351.37,828.91) scale(0.37768,0.40000)" font-size="110.21" stroke-width="4.25">1200</text>
<text transform="translate(1389.31,750.81) scale(0.37768,0.40000)" font-size="110.21" stroke-width="4.25">6</text>
<text transform="translate(1389.10,681.19) scale(0.37768,0.40000)" font-size="110.21" stroke-width="4.25">8</text>
<text transform="translate(1366.41,611.57) scale(0.37768,0.40000)" font-size="110.21" stroke-width="4.25">10</text>
<text transform="translate(1366.41,542.17) scale(0.37768,0.40000)" font-size="110.21" stroke-width="4.25">12</text>
<text transform="translate(1364.95,472.33) scale(0.37768,0.40000)" font-size="110.21" stroke-width="4.25">14</text>
<text transform="translate(1366.20,402.71) scale(0.37768,0.40000)" font-size="110.21" stroke-width="4.25">16</text>
<text transform="translate(1366.00,333.09) scale(0.37768,0.40000)" font-size="110.21" stroke-width="4.25">18</text>
<text transform="translate(1366.41,263.47) scale(0.37768,0.40000)" font-size="110.21" stroke-width="4.25">20</text>
<text transform="translate(1366.41,194.07) scale(0.37768,0.40000)" font-size="110.21" stroke-width="4.25">22</text>
<text transform="translate(1364.95,124.45) scale(0.37768,0.40000)" font-size="110.21" stroke-width="4.25">24</text>
<text transform="translate(240.35,1626.01) scale(0.37768,0.40000)" font-size="110.21" stroke-width="4.25">0</text>
<text transform="translate(377.77,1626.01) scale(0.37768,0.40000)" font-size="110.21" stroke-width="4.25">200</text>
<text transform="translate(538.60,1626.01) scale(0.37768,0.40000)" font-size="110.21" stroke-width="4.25">400</text>
<text transform="translate(698.60,1626.01) scale(0.37768,0.40000)" font-size="110.21" stroke-width="4.25">600</text>
<text transform="translate(859.12,1626.01) scale(0.37768,0.40000)" font-size="110.21" stroke-width="4.25">800</text>
<text transform="translate(1007.15,1626.01) scale(0.37768,0.40000)" font-size="110.21" stroke-width="4.25">1000</text>
<text transform="translate(1167.57,1626.01) scale(0.37768,0.40000)" font-size="110.21" stroke-width="4.25">1200</text>
<text transform="translate(145.45,1582.71) scale(0.37768,0.40000)" font-size="110.21" stroke-width="4.25">1.02</text>
<text transform="translate(145.25,1466.79) scale(0.37768,0.40000)" font-size="110.21" stroke-width="4.25">1.03</text>
<text transform="translate(144.00,1350.87) scale(0.37768,0.40000)" font-size="110.21" stroke-width="4.25">1.04</text>
<text transform="translate(144.83,1234.95) scale(0.37768,0.40000)" font-size="110.21" stroke-width="4.25">1.05</text>
<text transform="translate(145.25,1119.03) scale(0.37768,0.40000)" font-size="110.21" stroke-width="4.25">1.06</text>
<text transform="translate(145.66,1003.11) scale(0.37768,0.40000)" font-size="110.21" stroke-width="4.25">1.07</text>
<text transform="translate(145.04,887.19) scale(0.37768,0.40000)" font-size="110.21" stroke-width="4.25">1.08</text>
<text transform="translate(1422.15,1626.01) scale(0.37768,0.40000)" font-size="110.21" stroke-width="4.25">0</text>
<text transform="translate(1559.57,1626.01) scale(0.37768,0.40000)" font-size="110.21" stroke-width="4.25">200</text>
<text transform="translate(1720.40,1626.01) scale(0.37768,0.40000)" font-size="110.21" stroke-width="4.25">400</text>
<text transform="translate(1880.40,1626.01) scale(0.37768,0.40000)" font-size="110.21" stroke-width="4.25">600</text>
<text transform="translate(2040.92,1626.01) scale(0.37768,0.40000)" font-size="110.21" stroke-width="4.25">800</text>
<text transform="translate(2188.95,1626.01) scale(0.37768,0.40000)" font-size="110.21" stroke-width="4.25">1000</text>
<text transform="translate(2349.37,1626.01) scale(0.37768,0.40000)" font-size="110.21" stroke-width="4.25">1200</text>
<text transform="translate(1387.31,1582.91) scale(0.37768,0.40000)" font-size="110.21" stroke-width="4.25">6</text>
<text transform="translate(1387.10,1519.69) scale(0.37768,0.40000)" font-size="110.21" stroke-width="4.25">8</text>
<text transform="translate(1364.41,1456.47) scale(0.37768,0.40000)" font-size="110.21" stroke-width="4.25">10</text>
<text transform="translate(1364.41,1393.47) scale(0.37768,0.40000)" font-size="110.21" stroke-width="4.25">12</text>
<text transform="translate(1362.95,1330.03) scale(0.37768,0.40000)" font-size="110.21" stroke-width="4.25">14</text>
<text transform="translate(1364.20,1266.81) scale(0.37768,0.40000)" font-size="110.21" stroke-width="4.25">16</text>
<text transform="translate(1364.00,1203.59) scale(0.37768,0.40000)" font-size="110.21" stroke-width="4.25">18</text>
<text transform="translate(1364.41,1140.37) scale(0.37768,0.40000)" font-size="110.21" stroke-width="4.25">20</text>
<text transform="translate(1364.41,1077.37) scale(0.37768,0.40000)" font-size="110.21" stroke-width="4.25">22</text>
<text transform="translate(1362.95,1014.15) scale(0.37768,0.40000)" font-size="110.21" stroke-width="4.25">24</text>
<text transform="translate(1364.20,950.71) scale(0.37768,0.40000)" font-size="110.21" stroke-width="4.25">26</text>
<text transform="translate(1363.99,887.49) scale(0.37768,0.40000)" font-size="110.21" stroke-width="4.25">28</text>
</g>
</svg>
</body></html>
